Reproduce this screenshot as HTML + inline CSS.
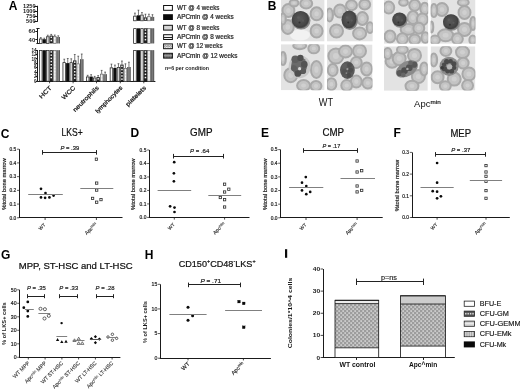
<!DOCTYPE html>
<html><head><meta charset="utf-8"><title>Figure</title>
<style>html,body{margin:0;padding:0;background:#fff;width:520px;height:391px;overflow:hidden;font-family:"Liberation Sans",sans-serif} svg{display:block;filter:grayscale(1)}</style>
</head><body>
<svg width="520" height="391" viewBox="0 0 520 391" font-family='"Liberation Sans", sans-serif'>
<defs><radialGradient id="rbc" cx="50%" cy="50%" r="50%">
<stop offset="0" stop-color="#d2d2d2"/><stop offset="0.55" stop-color="#c6c6c6"/><stop offset="0.8" stop-color="#aaaaaa"/><stop offset="0.93" stop-color="#a0a0a0"/><stop offset="1" stop-color="#bcbcbc"/></radialGradient><radialGradient id="lym" cx="45%" cy="45%" r="55%">
<stop offset="0" stop-color="#595959"/><stop offset="0.6" stop-color="#4b4b4b"/><stop offset="0.9" stop-color="#404040"/><stop offset="1" stop-color="#5a5a5a"/></radialGradient><filter id="blur3" x="-30%" y="-30%" width="160%" height="160%"><feGaussianBlur stdDeviation="0.5"/></filter><filter id="blur1" x="-20%" y="-20%" width="140%" height="140%"><feGaussianBlur stdDeviation="0.65"/></filter><clipPath id="clip0"><rect x="281.0" y="0" width="43.60" height="41.60"/></clipPath><clipPath id="clip1"><rect x="327.0" y="0" width="45.80" height="41.60"/></clipPath><clipPath id="clip2"><rect x="384.0" y="0" width="44.20" height="43.80"/></clipPath><clipPath id="clip3"><rect x="430.6" y="0" width="44.90" height="43.80"/></clipPath><clipPath id="clip4"><rect x="281.0" y="44.2" width="43.60" height="46.10"/></clipPath><clipPath id="clip5"><rect x="327.0" y="44.4" width="45.50" height="46.10"/></clipPath><clipPath id="clip6"><rect x="384.0" y="46.3" width="43.80" height="44.50"/></clipPath><clipPath id="clip7"><rect x="430.6" y="46.3" width="44.80" height="44.20"/></clipPath><pattern id="gm" patternUnits="userSpaceOnUse" width="4" height="4"><rect width="4" height="4" fill="#ababab"/><rect x="0.5" y="0.6" width="1.4" height="0.9" fill="#f2f2f2"/><rect x="2.5" y="2.6" width="1.4" height="0.9" fill="#f2f2f2"/><rect x="2.6" y="0.6" width="0.8" height="0.8" fill="#555"/><rect x="0.6" y="2.6" width="0.8" height="0.8" fill="#555"/></pattern></defs>
<rect width="520" height="391" fill="#fff"/>
<text x="8.80" y="9.90" font-size="12" font-weight="bold" text-anchor="start" fill="#000" font-style="normal" >A</text>
<line x1="37.50" y1="5.75" x2="37.50" y2="21.00" stroke="#1a1a1a" stroke-width="1.0" />
<line x1="34.20" y1="6.50" x2="37.90" y2="6.50" stroke="#1a1a1a" stroke-width="1.0" />
<text x="35.60" y="8.00" font-size="5.6" font-weight="bold" text-anchor="end" fill="#1a1a1a" font-style="normal" textLength="12.60" lengthAdjust="spacingAndGlyphs" >1250</text>
<line x1="34.20" y1="11.50" x2="37.90" y2="11.50" stroke="#1a1a1a" stroke-width="1.0" />
<text x="35.60" y="13.00" font-size="5.6" font-weight="bold" text-anchor="end" fill="#1a1a1a" font-style="normal" textLength="12.60" lengthAdjust="spacingAndGlyphs" >1000</text>
<line x1="34.20" y1="16.50" x2="37.90" y2="16.50" stroke="#1a1a1a" stroke-width="1.0" />
<text x="35.60" y="18.00" font-size="5.6" font-weight="bold" text-anchor="end" fill="#1a1a1a" font-style="normal" textLength="9.50" lengthAdjust="spacingAndGlyphs" >750</text>
<line x1="34.20" y1="21.50" x2="37.90" y2="21.50" stroke="#1a1a1a" stroke-width="1.0" />
<text x="35.60" y="23.00" font-size="5.6" font-weight="bold" text-anchor="end" fill="#1a1a1a" font-style="normal" textLength="9.50" lengthAdjust="spacingAndGlyphs" >500</text>
<line x1="37.50" y1="28.00" x2="37.50" y2="43.30" stroke="#1a1a1a" stroke-width="1.0" />
<line x1="36.40" y1="28.50" x2="39.60" y2="28.50" stroke="#1a1a1a" stroke-width="1.0" />
<line x1="36.40" y1="43.50" x2="39.60" y2="43.50" stroke="#1a1a1a" stroke-width="1.0" />
<line x1="35.30" y1="31.50" x2="37.90" y2="31.50" stroke="#1a1a1a" stroke-width="1.0" />
<text x="35.20" y="33.40" font-size="5.4" font-weight="bold" text-anchor="end" fill="#1a1a1a" font-style="normal" textLength="6.60" lengthAdjust="spacingAndGlyphs" >60</text>
<line x1="35.30" y1="39.50" x2="37.90" y2="39.50" stroke="#1a1a1a" stroke-width="1.0" />
<text x="35.20" y="41.50" font-size="5.4" font-weight="bold" text-anchor="end" fill="#1a1a1a" font-style="normal" textLength="6.60" lengthAdjust="spacingAndGlyphs" >40</text>
<line x1="37.50" y1="50.00" x2="37.50" y2="81.20" stroke="#1a1a1a" stroke-width="1.0" />
<line x1="35.70" y1="81.50" x2="37.90" y2="81.50" stroke="#1a1a1a" stroke-width="1.0" />
<text x="36.60" y="82.80" font-size="4.6" font-weight="bold" text-anchor="end" fill="#1a1a1a" font-style="normal" >0</text>
<line x1="35.70" y1="76.50" x2="37.90" y2="76.50" stroke="#1a1a1a" stroke-width="1.0" />
<text x="36.60" y="78.34" font-size="4.6" font-weight="bold" text-anchor="end" fill="#1a1a1a" font-style="normal" >2</text>
<line x1="35.70" y1="72.50" x2="37.90" y2="72.50" stroke="#1a1a1a" stroke-width="1.0" />
<text x="36.60" y="73.89" font-size="4.6" font-weight="bold" text-anchor="end" fill="#1a1a1a" font-style="normal" >4</text>
<line x1="35.70" y1="67.50" x2="37.90" y2="67.50" stroke="#1a1a1a" stroke-width="1.0" />
<text x="36.60" y="69.43" font-size="4.6" font-weight="bold" text-anchor="end" fill="#1a1a1a" font-style="normal" >6</text>
<line x1="35.70" y1="63.50" x2="37.90" y2="63.50" stroke="#1a1a1a" stroke-width="1.0" />
<text x="36.60" y="64.97" font-size="4.6" font-weight="bold" text-anchor="end" fill="#1a1a1a" font-style="normal" >8</text>
<line x1="35.70" y1="58.50" x2="37.90" y2="58.50" stroke="#1a1a1a" stroke-width="1.0" />
<text x="36.60" y="60.51" font-size="4.6" font-weight="bold" text-anchor="end" fill="#1a1a1a" font-style="normal" >10</text>
<line x1="35.70" y1="54.50" x2="37.90" y2="54.50" stroke="#1a1a1a" stroke-width="1.0" />
<text x="36.60" y="56.06" font-size="4.6" font-weight="bold" text-anchor="end" fill="#1a1a1a" font-style="normal" >12</text>
<line x1="35.70" y1="50.50" x2="37.90" y2="50.50" stroke="#1a1a1a" stroke-width="1.0" />
<text x="36.60" y="51.60" font-size="4.6" font-weight="bold" text-anchor="end" fill="#1a1a1a" font-style="normal" >14</text>
<line x1="37.50" y1="81.50" x2="155.40" y2="81.50" stroke="#1a1a1a" stroke-width="1.0" />
<line x1="49.60" y1="81.20" x2="49.60" y2="83.30" stroke="#1a1a1a" stroke-width="0.8" />
<line x1="73.10" y1="81.20" x2="73.10" y2="83.30" stroke="#1a1a1a" stroke-width="0.8" />
<line x1="96.50" y1="81.20" x2="96.50" y2="83.30" stroke="#1a1a1a" stroke-width="0.8" />
<line x1="120.30" y1="81.20" x2="120.30" y2="83.30" stroke="#1a1a1a" stroke-width="0.8" />
<line x1="143.80" y1="81.20" x2="143.80" y2="83.30" stroke="#1a1a1a" stroke-width="0.8" />
<rect x="39.45" y="50.55" width="2.60" height="30.65" fill="#fafafa" stroke="#111" stroke-width="0.7" />
<rect x="42.60" y="50.20" width="3.30" height="31.00" fill="#0d0d0d" stroke="none" stroke-width="0" />
<rect x="46.45" y="50.55" width="2.60" height="30.65" fill="#d4d4d4" stroke="#222" stroke-width="0.7" />
<rect x="49.60" y="50.20" width="3.30" height="31.00" fill="#1e1e1e" stroke="none" stroke-width="0" />
<rect x="50.50" y="51.20" width="1.50" height="1.50" fill="#f4f4f4" stroke="none" stroke-width="0" />
<rect x="50.50" y="54.40" width="1.50" height="1.50" fill="#f4f4f4" stroke="none" stroke-width="0" />
<rect x="50.50" y="57.60" width="1.50" height="1.50" fill="#f4f4f4" stroke="none" stroke-width="0" />
<rect x="50.50" y="60.80" width="1.50" height="1.50" fill="#f4f4f4" stroke="none" stroke-width="0" />
<rect x="50.50" y="64.00" width="1.50" height="1.50" fill="#f4f4f4" stroke="none" stroke-width="0" />
<rect x="50.50" y="67.20" width="1.50" height="1.50" fill="#f4f4f4" stroke="none" stroke-width="0" />
<rect x="50.50" y="70.40" width="1.50" height="1.50" fill="#f4f4f4" stroke="none" stroke-width="0" />
<rect x="50.50" y="73.60" width="1.50" height="1.50" fill="#f4f4f4" stroke="none" stroke-width="0" />
<rect x="50.50" y="76.80" width="1.50" height="1.50" fill="#f4f4f4" stroke="none" stroke-width="0" />
<rect x="53.40" y="50.50" width="2.70" height="30.70" fill="#e6e6e6" stroke="#555" stroke-width="0.6" />
<rect x="54.30" y="52.00" width="1.00" height="1.00" fill="#ffffff" stroke="none" stroke-width="0" />
<rect x="54.30" y="55.20" width="1.00" height="1.00" fill="#ffffff" stroke="none" stroke-width="0" />
<rect x="54.30" y="58.40" width="1.00" height="1.00" fill="#ffffff" stroke="none" stroke-width="0" />
<rect x="54.30" y="61.60" width="1.00" height="1.00" fill="#ffffff" stroke="none" stroke-width="0" />
<rect x="54.30" y="64.80" width="1.00" height="1.00" fill="#ffffff" stroke="none" stroke-width="0" />
<rect x="54.30" y="68.00" width="1.00" height="1.00" fill="#ffffff" stroke="none" stroke-width="0" />
<rect x="54.30" y="71.20" width="1.00" height="1.00" fill="#ffffff" stroke="none" stroke-width="0" />
<rect x="54.30" y="74.40" width="1.00" height="1.00" fill="#ffffff" stroke="none" stroke-width="0" />
<rect x="54.30" y="77.60" width="1.00" height="1.00" fill="#ffffff" stroke="none" stroke-width="0" />
<rect x="56.60" y="50.20" width="3.30" height="31.00" fill="#9a9a9a" stroke="none" stroke-width="0" />
<line x1="57.00" y1="50.20" x2="57.00" y2="81.20" stroke="#333" stroke-width="0.7" />
<line x1="58.25" y1="50.20" x2="58.25" y2="81.20" stroke="#555" stroke-width="0.5" />
<line x1="59.50" y1="50.20" x2="59.50" y2="81.20" stroke="#333" stroke-width="0.7" />
<line x1="64.25" y1="62.30" x2="64.25" y2="59.20" stroke="#222" stroke-width="0.6" />
<line x1="63.35" y1="59.20" x2="65.15" y2="59.20" stroke="#222" stroke-width="0.6" />
<rect x="62.95" y="62.65" width="2.60" height="18.55" fill="#fafafa" stroke="#111" stroke-width="0.7" />
<line x1="67.75" y1="63.10" x2="67.75" y2="58.50" stroke="#222" stroke-width="0.6" />
<line x1="66.85" y1="58.50" x2="68.65" y2="58.50" stroke="#222" stroke-width="0.6" />
<rect x="66.10" y="63.10" width="3.30" height="18.10" fill="#0d0d0d" stroke="none" stroke-width="0" />
<line x1="71.25" y1="62.30" x2="71.25" y2="58.80" stroke="#222" stroke-width="0.6" />
<line x1="70.35" y1="58.80" x2="72.15" y2="58.80" stroke="#222" stroke-width="0.6" />
<rect x="69.95" y="62.65" width="2.60" height="18.55" fill="#d4d4d4" stroke="#222" stroke-width="0.7" />
<line x1="74.75" y1="60.40" x2="74.75" y2="54.50" stroke="#222" stroke-width="0.6" />
<line x1="73.85" y1="54.50" x2="75.65" y2="54.50" stroke="#222" stroke-width="0.6" />
<rect x="73.10" y="60.40" width="3.30" height="20.80" fill="#1e1e1e" stroke="none" stroke-width="0" />
<rect x="74.00" y="61.40" width="1.50" height="1.50" fill="#f4f4f4" stroke="none" stroke-width="0" />
<rect x="74.00" y="64.60" width="1.50" height="1.50" fill="#f4f4f4" stroke="none" stroke-width="0" />
<rect x="74.00" y="67.80" width="1.50" height="1.50" fill="#f4f4f4" stroke="none" stroke-width="0" />
<rect x="74.00" y="71.00" width="1.50" height="1.50" fill="#f4f4f4" stroke="none" stroke-width="0" />
<rect x="74.00" y="74.20" width="1.50" height="1.50" fill="#f4f4f4" stroke="none" stroke-width="0" />
<rect x="74.00" y="77.40" width="1.50" height="1.50" fill="#f4f4f4" stroke="none" stroke-width="0" />
<line x1="78.25" y1="63.50" x2="78.25" y2="56.20" stroke="#222" stroke-width="0.6" />
<line x1="77.35" y1="56.20" x2="79.15" y2="56.20" stroke="#222" stroke-width="0.6" />
<rect x="76.90" y="63.80" width="2.70" height="17.40" fill="#e6e6e6" stroke="#555" stroke-width="0.6" />
<rect x="77.80" y="65.30" width="1.00" height="1.00" fill="#ffffff" stroke="none" stroke-width="0" />
<rect x="77.80" y="68.50" width="1.00" height="1.00" fill="#ffffff" stroke="none" stroke-width="0" />
<rect x="77.80" y="71.70" width="1.00" height="1.00" fill="#ffffff" stroke="none" stroke-width="0" />
<rect x="77.80" y="74.90" width="1.00" height="1.00" fill="#ffffff" stroke="none" stroke-width="0" />
<rect x="77.80" y="78.10" width="1.00" height="1.00" fill="#ffffff" stroke="none" stroke-width="0" />
<line x1="81.75" y1="59.20" x2="81.75" y2="54.00" stroke="#222" stroke-width="0.6" />
<line x1="80.85" y1="54.00" x2="82.65" y2="54.00" stroke="#222" stroke-width="0.6" />
<rect x="80.10" y="59.20" width="3.30" height="22.00" fill="#9a9a9a" stroke="none" stroke-width="0" />
<line x1="80.50" y1="59.20" x2="80.50" y2="81.20" stroke="#333" stroke-width="0.7" />
<line x1="81.75" y1="59.20" x2="81.75" y2="81.20" stroke="#555" stroke-width="0.5" />
<line x1="83.00" y1="59.20" x2="83.00" y2="81.20" stroke="#333" stroke-width="0.7" />
<line x1="87.65" y1="76.60" x2="87.65" y2="75.30" stroke="#222" stroke-width="0.6" />
<line x1="86.75" y1="75.30" x2="88.55" y2="75.30" stroke="#222" stroke-width="0.6" />
<rect x="86.35" y="76.95" width="2.60" height="4.25" fill="#fafafa" stroke="#111" stroke-width="0.7" />
<line x1="91.15" y1="76.60" x2="91.15" y2="74.70" stroke="#222" stroke-width="0.6" />
<line x1="90.25" y1="74.70" x2="92.05" y2="74.70" stroke="#222" stroke-width="0.6" />
<rect x="89.50" y="76.60" width="3.30" height="4.60" fill="#0d0d0d" stroke="none" stroke-width="0" />
<line x1="94.65" y1="77.60" x2="94.65" y2="76.40" stroke="#222" stroke-width="0.6" />
<line x1="93.75" y1="76.40" x2="95.55" y2="76.40" stroke="#222" stroke-width="0.6" />
<rect x="93.35" y="77.95" width="2.60" height="3.25" fill="#d4d4d4" stroke="#222" stroke-width="0.7" />
<line x1="98.15" y1="77.10" x2="98.15" y2="75.60" stroke="#222" stroke-width="0.6" />
<line x1="97.25" y1="75.60" x2="99.05" y2="75.60" stroke="#222" stroke-width="0.6" />
<rect x="96.50" y="77.10" width="3.30" height="4.10" fill="#1e1e1e" stroke="none" stroke-width="0" />
<rect x="97.40" y="78.10" width="1.50" height="1.50" fill="#f4f4f4" stroke="none" stroke-width="0" />
<line x1="101.65" y1="73.80" x2="101.65" y2="70.40" stroke="#222" stroke-width="0.6" />
<line x1="100.75" y1="70.40" x2="102.55" y2="70.40" stroke="#222" stroke-width="0.6" />
<rect x="100.30" y="74.10" width="2.70" height="7.10" fill="#e6e6e6" stroke="#555" stroke-width="0.6" />
<rect x="101.20" y="75.60" width="1.00" height="1.00" fill="#ffffff" stroke="none" stroke-width="0" />
<rect x="101.20" y="78.80" width="1.00" height="1.00" fill="#ffffff" stroke="none" stroke-width="0" />
<line x1="105.15" y1="74.20" x2="105.15" y2="72.10" stroke="#222" stroke-width="0.6" />
<line x1="104.25" y1="72.10" x2="106.05" y2="72.10" stroke="#222" stroke-width="0.6" />
<rect x="103.50" y="74.20" width="3.30" height="7.00" fill="#9a9a9a" stroke="none" stroke-width="0" />
<line x1="103.90" y1="74.20" x2="103.90" y2="81.20" stroke="#333" stroke-width="0.7" />
<line x1="105.15" y1="74.20" x2="105.15" y2="81.20" stroke="#555" stroke-width="0.5" />
<line x1="106.40" y1="74.20" x2="106.40" y2="81.20" stroke="#333" stroke-width="0.7" />
<line x1="111.45" y1="67.50" x2="111.45" y2="64.10" stroke="#222" stroke-width="0.6" />
<line x1="110.55" y1="64.10" x2="112.35" y2="64.10" stroke="#222" stroke-width="0.6" />
<rect x="110.15" y="67.85" width="2.60" height="13.35" fill="#fafafa" stroke="#111" stroke-width="0.7" />
<line x1="114.95" y1="68.00" x2="114.95" y2="65.10" stroke="#222" stroke-width="0.6" />
<line x1="114.05" y1="65.10" x2="115.85" y2="65.10" stroke="#222" stroke-width="0.6" />
<rect x="113.30" y="68.00" width="3.30" height="13.20" fill="#0d0d0d" stroke="none" stroke-width="0" />
<line x1="118.45" y1="67.00" x2="118.45" y2="63.70" stroke="#222" stroke-width="0.6" />
<line x1="117.55" y1="63.70" x2="119.35" y2="63.70" stroke="#222" stroke-width="0.6" />
<rect x="117.15" y="67.35" width="2.60" height="13.85" fill="#d4d4d4" stroke="#222" stroke-width="0.7" />
<line x1="121.95" y1="64.60" x2="121.95" y2="61.00" stroke="#222" stroke-width="0.6" />
<line x1="121.05" y1="61.00" x2="122.85" y2="61.00" stroke="#222" stroke-width="0.6" />
<rect x="120.30" y="64.60" width="3.30" height="16.60" fill="#1e1e1e" stroke="none" stroke-width="0" />
<rect x="121.20" y="65.60" width="1.50" height="1.50" fill="#f4f4f4" stroke="none" stroke-width="0" />
<rect x="121.20" y="68.80" width="1.50" height="1.50" fill="#f4f4f4" stroke="none" stroke-width="0" />
<rect x="121.20" y="72.00" width="1.50" height="1.50" fill="#f4f4f4" stroke="none" stroke-width="0" />
<rect x="121.20" y="75.20" width="1.50" height="1.50" fill="#f4f4f4" stroke="none" stroke-width="0" />
<rect x="121.20" y="78.40" width="1.50" height="1.50" fill="#f4f4f4" stroke="none" stroke-width="0" />
<line x1="125.45" y1="68.00" x2="125.45" y2="63.80" stroke="#222" stroke-width="0.6" />
<line x1="124.55" y1="63.80" x2="126.35" y2="63.80" stroke="#222" stroke-width="0.6" />
<rect x="124.10" y="68.30" width="2.70" height="12.90" fill="#e6e6e6" stroke="#555" stroke-width="0.6" />
<rect x="125.00" y="69.80" width="1.00" height="1.00" fill="#ffffff" stroke="none" stroke-width="0" />
<rect x="125.00" y="73.00" width="1.00" height="1.00" fill="#ffffff" stroke="none" stroke-width="0" />
<rect x="125.00" y="76.20" width="1.00" height="1.00" fill="#ffffff" stroke="none" stroke-width="0" />
<rect x="125.00" y="79.40" width="1.00" height="1.00" fill="#ffffff" stroke="none" stroke-width="0" />
<line x1="128.95" y1="67.00" x2="128.95" y2="62.20" stroke="#222" stroke-width="0.6" />
<line x1="128.05" y1="62.20" x2="129.85" y2="62.20" stroke="#222" stroke-width="0.6" />
<rect x="127.30" y="67.00" width="3.30" height="14.20" fill="#9a9a9a" stroke="none" stroke-width="0" />
<line x1="127.70" y1="67.00" x2="127.70" y2="81.20" stroke="#333" stroke-width="0.7" />
<line x1="128.95" y1="67.00" x2="128.95" y2="81.20" stroke="#555" stroke-width="0.5" />
<line x1="130.20" y1="67.00" x2="130.20" y2="81.20" stroke="#333" stroke-width="0.7" />
<rect x="133.65" y="50.55" width="2.60" height="30.65" fill="#fafafa" stroke="#111" stroke-width="0.7" />
<rect x="136.80" y="50.20" width="3.30" height="31.00" fill="#0d0d0d" stroke="none" stroke-width="0" />
<rect x="140.65" y="50.55" width="2.60" height="30.65" fill="#d4d4d4" stroke="#222" stroke-width="0.7" />
<rect x="143.80" y="50.20" width="3.30" height="31.00" fill="#1e1e1e" stroke="none" stroke-width="0" />
<rect x="144.70" y="51.20" width="1.50" height="1.50" fill="#f4f4f4" stroke="none" stroke-width="0" />
<rect x="144.70" y="54.40" width="1.50" height="1.50" fill="#f4f4f4" stroke="none" stroke-width="0" />
<rect x="144.70" y="57.60" width="1.50" height="1.50" fill="#f4f4f4" stroke="none" stroke-width="0" />
<rect x="144.70" y="60.80" width="1.50" height="1.50" fill="#f4f4f4" stroke="none" stroke-width="0" />
<rect x="144.70" y="64.00" width="1.50" height="1.50" fill="#f4f4f4" stroke="none" stroke-width="0" />
<rect x="144.70" y="67.20" width="1.50" height="1.50" fill="#f4f4f4" stroke="none" stroke-width="0" />
<rect x="144.70" y="70.40" width="1.50" height="1.50" fill="#f4f4f4" stroke="none" stroke-width="0" />
<rect x="144.70" y="73.60" width="1.50" height="1.50" fill="#f4f4f4" stroke="none" stroke-width="0" />
<rect x="144.70" y="76.80" width="1.50" height="1.50" fill="#f4f4f4" stroke="none" stroke-width="0" />
<rect x="147.60" y="50.50" width="2.70" height="30.70" fill="#e6e6e6" stroke="#555" stroke-width="0.6" />
<rect x="148.50" y="52.00" width="1.00" height="1.00" fill="#ffffff" stroke="none" stroke-width="0" />
<rect x="148.50" y="55.20" width="1.00" height="1.00" fill="#ffffff" stroke="none" stroke-width="0" />
<rect x="148.50" y="58.40" width="1.00" height="1.00" fill="#ffffff" stroke="none" stroke-width="0" />
<rect x="148.50" y="61.60" width="1.00" height="1.00" fill="#ffffff" stroke="none" stroke-width="0" />
<rect x="148.50" y="64.80" width="1.00" height="1.00" fill="#ffffff" stroke="none" stroke-width="0" />
<rect x="148.50" y="68.00" width="1.00" height="1.00" fill="#ffffff" stroke="none" stroke-width="0" />
<rect x="148.50" y="71.20" width="1.00" height="1.00" fill="#ffffff" stroke="none" stroke-width="0" />
<rect x="148.50" y="74.40" width="1.00" height="1.00" fill="#ffffff" stroke="none" stroke-width="0" />
<rect x="148.50" y="77.60" width="1.00" height="1.00" fill="#ffffff" stroke="none" stroke-width="0" />
<rect x="150.80" y="50.20" width="3.30" height="31.00" fill="#9a9a9a" stroke="none" stroke-width="0" />
<line x1="151.20" y1="50.20" x2="151.20" y2="81.20" stroke="#333" stroke-width="0.7" />
<line x1="152.45" y1="50.20" x2="152.45" y2="81.20" stroke="#555" stroke-width="0.5" />
<line x1="153.70" y1="50.20" x2="153.70" y2="81.20" stroke="#333" stroke-width="0.7" />
<line x1="40.75" y1="38.60" x2="40.75" y2="37.60" stroke="#222" stroke-width="0.6" />
<line x1="39.85" y1="37.60" x2="41.65" y2="37.60" stroke="#222" stroke-width="0.6" />
<rect x="39.45" y="38.95" width="2.60" height="4.45" fill="#fafafa" stroke="#111" stroke-width="0.7" />
<line x1="44.25" y1="39.20" x2="44.25" y2="38.20" stroke="#222" stroke-width="0.6" />
<line x1="43.35" y1="38.20" x2="45.15" y2="38.20" stroke="#222" stroke-width="0.6" />
<rect x="42.60" y="39.20" width="3.30" height="4.20" fill="#0d0d0d" stroke="none" stroke-width="0" />
<line x1="47.75" y1="36.40" x2="47.75" y2="35.20" stroke="#222" stroke-width="0.6" />
<line x1="46.85" y1="35.20" x2="48.65" y2="35.20" stroke="#222" stroke-width="0.6" />
<rect x="46.45" y="36.75" width="2.60" height="6.65" fill="#d4d4d4" stroke="#222" stroke-width="0.7" />
<line x1="51.25" y1="35.60" x2="51.25" y2="34.40" stroke="#222" stroke-width="0.6" />
<line x1="50.35" y1="34.40" x2="52.15" y2="34.40" stroke="#222" stroke-width="0.6" />
<rect x="49.60" y="35.60" width="3.30" height="7.80" fill="#1e1e1e" stroke="none" stroke-width="0" />
<rect x="50.50" y="36.60" width="1.50" height="1.50" fill="#f4f4f4" stroke="none" stroke-width="0" />
<rect x="50.50" y="39.80" width="1.50" height="1.50" fill="#f4f4f4" stroke="none" stroke-width="0" />
<line x1="54.75" y1="36.20" x2="54.75" y2="35.00" stroke="#222" stroke-width="0.6" />
<line x1="53.85" y1="35.00" x2="55.65" y2="35.00" stroke="#222" stroke-width="0.6" />
<rect x="53.40" y="36.50" width="2.70" height="6.90" fill="#e6e6e6" stroke="#555" stroke-width="0.6" />
<rect x="54.30" y="38.00" width="1.00" height="1.00" fill="#ffffff" stroke="none" stroke-width="0" />
<rect x="54.30" y="41.20" width="1.00" height="1.00" fill="#ffffff" stroke="none" stroke-width="0" />
<line x1="58.25" y1="37.00" x2="58.25" y2="35.80" stroke="#222" stroke-width="0.6" />
<line x1="57.35" y1="35.80" x2="59.15" y2="35.80" stroke="#222" stroke-width="0.6" />
<rect x="56.60" y="37.00" width="3.30" height="6.40" fill="#9a9a9a" stroke="none" stroke-width="0" />
<line x1="57.00" y1="37.00" x2="57.00" y2="43.40" stroke="#333" stroke-width="0.7" />
<line x1="58.25" y1="37.00" x2="58.25" y2="43.40" stroke="#555" stroke-width="0.5" />
<line x1="59.50" y1="37.00" x2="59.50" y2="43.40" stroke="#333" stroke-width="0.7" />
<rect x="133.65" y="28.65" width="2.60" height="14.75" fill="#fafafa" stroke="#111" stroke-width="0.7" />
<rect x="136.80" y="28.30" width="3.30" height="15.10" fill="#0d0d0d" stroke="none" stroke-width="0" />
<rect x="140.65" y="28.65" width="2.60" height="14.75" fill="#d4d4d4" stroke="#222" stroke-width="0.7" />
<rect x="143.80" y="28.30" width="3.30" height="15.10" fill="#1e1e1e" stroke="none" stroke-width="0" />
<rect x="144.70" y="29.30" width="1.50" height="1.50" fill="#f4f4f4" stroke="none" stroke-width="0" />
<rect x="144.70" y="32.50" width="1.50" height="1.50" fill="#f4f4f4" stroke="none" stroke-width="0" />
<rect x="144.70" y="35.70" width="1.50" height="1.50" fill="#f4f4f4" stroke="none" stroke-width="0" />
<rect x="144.70" y="38.90" width="1.50" height="1.50" fill="#f4f4f4" stroke="none" stroke-width="0" />
<rect x="147.60" y="28.60" width="2.70" height="14.80" fill="#e6e6e6" stroke="#555" stroke-width="0.6" />
<rect x="148.50" y="30.10" width="1.00" height="1.00" fill="#ffffff" stroke="none" stroke-width="0" />
<rect x="148.50" y="33.30" width="1.00" height="1.00" fill="#ffffff" stroke="none" stroke-width="0" />
<rect x="148.50" y="36.50" width="1.00" height="1.00" fill="#ffffff" stroke="none" stroke-width="0" />
<rect x="148.50" y="39.70" width="1.00" height="1.00" fill="#ffffff" stroke="none" stroke-width="0" />
<rect x="150.80" y="28.30" width="3.30" height="15.10" fill="#9a9a9a" stroke="none" stroke-width="0" />
<line x1="151.20" y1="28.30" x2="151.20" y2="43.40" stroke="#333" stroke-width="0.7" />
<line x1="152.45" y1="28.30" x2="152.45" y2="43.40" stroke="#555" stroke-width="0.5" />
<line x1="153.70" y1="28.30" x2="153.70" y2="43.40" stroke="#333" stroke-width="0.7" />
<line x1="134.95" y1="15.80" x2="134.95" y2="13.10" stroke="#222" stroke-width="0.6" />
<line x1="134.05" y1="13.10" x2="135.85" y2="13.10" stroke="#222" stroke-width="0.6" />
<rect x="133.65" y="16.15" width="2.60" height="4.65" fill="#fafafa" stroke="#111" stroke-width="0.7" />
<line x1="138.45" y1="15.30" x2="138.45" y2="10.20" stroke="#222" stroke-width="0.6" />
<line x1="137.55" y1="10.20" x2="139.35" y2="10.20" stroke="#222" stroke-width="0.6" />
<rect x="136.80" y="15.30" width="3.30" height="5.50" fill="#0d0d0d" stroke="none" stroke-width="0" />
<line x1="141.95" y1="14.70" x2="141.95" y2="12.60" stroke="#222" stroke-width="0.6" />
<line x1="141.05" y1="12.60" x2="142.85" y2="12.60" stroke="#222" stroke-width="0.6" />
<rect x="140.65" y="15.05" width="2.60" height="5.75" fill="#d4d4d4" stroke="#222" stroke-width="0.7" />
<line x1="145.45" y1="17.40" x2="145.45" y2="14.20" stroke="#222" stroke-width="0.6" />
<line x1="144.55" y1="14.20" x2="146.35" y2="14.20" stroke="#222" stroke-width="0.6" />
<rect x="143.80" y="17.40" width="3.30" height="3.40" fill="#1e1e1e" stroke="none" stroke-width="0" />
<rect x="144.70" y="18.40" width="1.50" height="1.50" fill="#f4f4f4" stroke="none" stroke-width="0" />
<line x1="148.95" y1="16.40" x2="148.95" y2="14.20" stroke="#222" stroke-width="0.6" />
<line x1="148.05" y1="14.20" x2="149.85" y2="14.20" stroke="#222" stroke-width="0.6" />
<rect x="147.60" y="16.70" width="2.70" height="4.10" fill="#e6e6e6" stroke="#555" stroke-width="0.6" />
<rect x="148.50" y="18.20" width="1.00" height="1.00" fill="#ffffff" stroke="none" stroke-width="0" />
<line x1="152.45" y1="16.90" x2="152.45" y2="14.70" stroke="#222" stroke-width="0.6" />
<line x1="151.55" y1="14.70" x2="153.35" y2="14.70" stroke="#222" stroke-width="0.6" />
<rect x="150.80" y="16.90" width="3.30" height="3.90" fill="#9a9a9a" stroke="none" stroke-width="0" />
<line x1="151.20" y1="16.90" x2="151.20" y2="20.80" stroke="#333" stroke-width="0.7" />
<line x1="152.45" y1="16.90" x2="152.45" y2="20.80" stroke="#555" stroke-width="0.5" />
<line x1="153.70" y1="16.90" x2="153.70" y2="20.80" stroke="#333" stroke-width="0.7" />
<text x="52.20" y="88.30" font-size="6.0" font-weight="normal" text-anchor="end" fill="#1a1a1a" font-style="normal" textLength="15.00" lengthAdjust="spacingAndGlyphs" transform="rotate(-45 52.20 88.30)" stroke="#1a1a1a" stroke-width="0.25">HCT</text>
<text x="75.70" y="88.30" font-size="6.0" font-weight="normal" text-anchor="end" fill="#1a1a1a" font-style="normal" textLength="16.40" lengthAdjust="spacingAndGlyphs" transform="rotate(-45 75.70 88.30)" stroke="#1a1a1a" stroke-width="0.25">WCC</text>
<text x="99.10" y="88.30" font-size="6.0" font-weight="normal" text-anchor="end" fill="#1a1a1a" font-style="normal" textLength="33.80" lengthAdjust="spacingAndGlyphs" transform="rotate(-45 99.10 88.30)" stroke="#1a1a1a" stroke-width="0.25">neutrophils</text>
<text x="122.90" y="88.30" font-size="6.0" font-weight="normal" text-anchor="end" fill="#1a1a1a" font-style="normal" textLength="35.60" lengthAdjust="spacingAndGlyphs" transform="rotate(-45 122.90 88.30)" stroke="#1a1a1a" stroke-width="0.25">lymphocytes</text>
<text x="146.40" y="88.30" font-size="6.0" font-weight="normal" text-anchor="end" fill="#1a1a1a" font-style="normal" textLength="26.00" lengthAdjust="spacingAndGlyphs" transform="rotate(-45 146.40 88.30)" stroke="#1a1a1a" stroke-width="0.25">platelets</text>
<rect x="163.60" y="5.50" width="8.80" height="4.80" fill="#fff" stroke="#111" stroke-width="1.0" />
<text x="176.90" y="9.90" font-size="6.3" font-weight="normal" text-anchor="start" fill="#222" font-style="normal" textLength="42.60" lengthAdjust="spacingAndGlyphs" stroke="#222" stroke-width="0.2">WT @ 4 weeks</text>
<rect x="163.10" y="14.20" width="9.80" height="5.80" fill="#0a0a0a" stroke="none" stroke-width="0" />
<text x="176.90" y="19.10" font-size="6.3" font-weight="normal" text-anchor="start" fill="#222" font-style="normal" textLength="56.80" lengthAdjust="spacingAndGlyphs" stroke="#222" stroke-width="0.2">APCmin @ 4 weeks</text>
<rect x="163.60" y="25.30" width="8.80" height="4.80" fill="#d6d6d6" stroke="#111" stroke-width="1.0" />
<text x="176.90" y="29.70" font-size="6.3" font-weight="normal" text-anchor="start" fill="#222" font-style="normal" textLength="42.60" lengthAdjust="spacingAndGlyphs" stroke="#222" stroke-width="0.2">WT @ 8 weeks</text>
<rect x="163.60" y="34.70" width="8.80" height="4.80" fill="#f4f4f4" stroke="#111" stroke-width="1.0" />
<line x1="163.60" y1="37.50" x2="172.40" y2="37.50" stroke="#222" stroke-width="1.0" />
<text x="176.90" y="39.10" font-size="6.3" font-weight="normal" text-anchor="start" fill="#222" font-style="normal" textLength="56.80" lengthAdjust="spacingAndGlyphs" stroke="#222" stroke-width="0.2">APCmin @ 8 weeks</text>
<rect x="163.60" y="43.90" width="8.80" height="4.80" fill="#f0f0f0" stroke="#111" stroke-width="1.0" />
<circle cx="165.50" cy="46.30" r="0.90" fill="none" stroke="#555" stroke-width="0.5" />
<circle cx="168.00" cy="46.30" r="0.90" fill="none" stroke="#555" stroke-width="0.5" />
<circle cx="170.50" cy="46.30" r="0.90" fill="none" stroke="#555" stroke-width="0.5" />
<text x="176.90" y="48.30" font-size="6.3" font-weight="normal" text-anchor="start" fill="#222" font-style="normal" textLength="45.60" lengthAdjust="spacingAndGlyphs" stroke="#222" stroke-width="0.2">WT @ 12 weeks</text>
<rect x="163.60" y="53.30" width="8.80" height="4.80" fill="#6a6a6a" stroke="#111" stroke-width="1.0" />
<line x1="163.90" y1="55.70" x2="172.10" y2="55.70" stroke="#c8c8c8" stroke-width="0.6" />
<line x1="165.70" y1="53.80" x2="165.70" y2="57.60" stroke="#999" stroke-width="0.4" />
<line x1="168.10" y1="53.80" x2="168.10" y2="57.60" stroke="#999" stroke-width="0.4" />
<line x1="170.50" y1="53.80" x2="170.50" y2="57.60" stroke="#999" stroke-width="0.4" />
<text x="176.90" y="57.70" font-size="6.3" font-weight="normal" text-anchor="start" fill="#222" font-style="normal" textLength="60.60" lengthAdjust="spacingAndGlyphs" stroke="#222" stroke-width="0.2">APCmin @ 12 weeks</text>
<text x="164.90" y="70.20" font-size="4.8" font-weight="bold" text-anchor="start" fill="#1a1a1a" font-style="normal" textLength="44.20" lengthAdjust="spacingAndGlyphs" >n=6 per condition</text>
<text x="267.80" y="9.90" font-size="12" font-weight="bold" text-anchor="start" fill="#000" font-style="normal" >B</text>
<g clip-path="url(#clip0)">
<rect x="281.00" y="0.00" width="43.60" height="41.60" fill="#e3e3e3" stroke="none" stroke-width="0" />
<g filter="url(#blur1)">
<ellipse cx="300" cy="35" rx="10" ry="5.5" fill="#f2f2f2"/>
<ellipse cx="288.4" cy="10.4" rx="5.98" ry="6.50" fill="#c4c4c4" stroke="#a9a9a9" stroke-width="2.0"/>
<ellipse cx="288.4" cy="10.4" rx="2.31" ry="2.52" fill="#d0d0d0"/>
<ellipse cx="306.2" cy="3.5" rx="5.98" ry="4.93" fill="#c4c4c4" stroke="#a9a9a9" stroke-width="2.0"/>
<ellipse cx="306.2" cy="3.5" rx="2.31" ry="1.89" fill="#d0d0d0"/>
<ellipse cx="316.6" cy="13.8" rx="5.98" ry="6.50" fill="#c4c4c4" stroke="#a9a9a9" stroke-width="2.0"/>
<ellipse cx="316.6" cy="13.8" rx="2.31" ry="2.52" fill="#d0d0d0"/>
<ellipse cx="287.8" cy="27" rx="5.98" ry="7.03" fill="#c4c4c4" stroke="#a9a9a9" stroke-width="2.0"/>
<ellipse cx="287.8" cy="27" rx="2.31" ry="2.73" fill="#d0d0d0"/>
<ellipse cx="316.6" cy="31" rx="5.98" ry="6.50" fill="#c4c4c4" stroke="#a9a9a9" stroke-width="2.0"/>
<ellipse cx="316.6" cy="31" rx="2.31" ry="2.52" fill="#d0d0d0"/>
<ellipse cx="294" cy="3" rx="4.40" ry="3.35" fill="#c4c4c4" stroke="#a9a9a9" stroke-width="2.0"/>
<ellipse cx="294" cy="3" rx="1.68" ry="1.26" fill="#d0d0d0"/>
<ellipse cx="283" cy="19" rx="2.83" ry="5.45" fill="#c4c4c4" stroke="#a9a9a9" stroke-width="2.0"/>
<ellipse cx="283" cy="19" rx="1.05" ry="2.10" fill="#d0d0d0"/>
</g><g filter="url(#blur3)">
<ellipse cx="301.1" cy="20.400000000000002" rx="9.4" ry="9.2" fill="#8a8a8a"/>
<ellipse cx="300.5" cy="19.6" rx="8.8" ry="8.6" fill="url(#lym)"/>
<circle cx="298.5" cy="17.6" r="1.3" fill="#5c5c5c"/><circle cx="303.0" cy="20.6" r="1.1" fill="#5a5a5a"/><circle cx="299.5" cy="22.6" r="1.0" fill="#333"/>
</g></g>
<g clip-path="url(#clip1)">
<rect x="327.00" y="0.00" width="45.80" height="41.60" fill="#e3e3e3" stroke="none" stroke-width="0" />
<g filter="url(#blur1)">
<ellipse cx="340" cy="11" rx="5.98" ry="6.50" fill="#c4c4c4" stroke="#a9a9a9" stroke-width="2.0"/>
<ellipse cx="340" cy="11" rx="2.31" ry="2.52" fill="#d0d0d0"/>
<ellipse cx="362.4" cy="18.4" rx="5.45" ry="6.50" fill="#c4c4c4" stroke="#a9a9a9" stroke-width="2.0"/>
<ellipse cx="362.4" cy="18.4" rx="2.10" ry="2.52" fill="#d0d0d0"/>
<ellipse cx="336.5" cy="31" rx="6.50" ry="6.50" fill="#c4c4c4" stroke="#a9a9a9" stroke-width="2.0"/>
<ellipse cx="336.5" cy="31" rx="2.52" ry="2.52" fill="#d0d0d0"/>
<ellipse cx="359.6" cy="33.4" rx="6.50" ry="5.98" fill="#c4c4c4" stroke="#a9a9a9" stroke-width="2.0"/>
<ellipse cx="359.6" cy="33.4" rx="2.52" ry="2.31" fill="#d0d0d0"/>
<ellipse cx="329.6" cy="15" rx="3.35" ry="6.50" fill="#c4c4c4" stroke="#a9a9a9" stroke-width="2.0"/>
<ellipse cx="329.6" cy="15" rx="1.26" ry="2.52" fill="#d0d0d0"/>
<ellipse cx="351.5" cy="5.2" rx="5.45" ry="4.93" fill="#c4c4c4" stroke="#a9a9a9" stroke-width="2.0"/>
<ellipse cx="351.5" cy="5.2" rx="2.10" ry="1.89" fill="#d0d0d0"/>
<ellipse cx="364.7" cy="4.6" rx="5.45" ry="4.93" fill="#c4c4c4" stroke="#a9a9a9" stroke-width="2.0"/>
<ellipse cx="364.7" cy="4.6" rx="2.10" ry="1.89" fill="#d0d0d0"/>
<ellipse cx="370" cy="27.6" rx="3.35" ry="5.45" fill="#c4c4c4" stroke="#a9a9a9" stroke-width="2.0"/>
<ellipse cx="370" cy="27.6" rx="1.26" ry="2.10" fill="#d0d0d0"/>
</g><g filter="url(#blur3)">
<ellipse cx="349.8" cy="20.400000000000002" rx="8.2" ry="9.6" fill="#8a8a8a"/>
<ellipse cx="349.2" cy="19.6" rx="7.6" ry="9.0" fill="url(#lym)"/>
<circle cx="347.2" cy="17.6" r="1.3" fill="#5c5c5c"/><circle cx="351.7" cy="20.6" r="1.1" fill="#5a5a5a"/><circle cx="348.2" cy="22.6" r="1.0" fill="#333"/>
</g></g>
<g clip-path="url(#clip2)">
<rect x="384.00" y="0.00" width="44.20" height="43.80" fill="#e3e3e3" stroke="none" stroke-width="0" />
<g filter="url(#blur1)">
<ellipse cx="388.8" cy="7.6" rx="5.45" ry="5.98" fill="#c4c4c4" stroke="#a9a9a9" stroke-width="2.0"/>
<ellipse cx="388.8" cy="7.6" rx="2.10" ry="2.31" fill="#d0d0d0"/>
<ellipse cx="403.5" cy="2.4" rx="4.40" ry="3.35" fill="#c4c4c4" stroke="#a9a9a9" stroke-width="2.0"/>
<ellipse cx="403.5" cy="2.4" rx="1.68" ry="1.26" fill="#d0d0d0"/>
<ellipse cx="414.7" cy="5.3" rx="5.45" ry="5.45" fill="#c4c4c4" stroke="#a9a9a9" stroke-width="2.0"/>
<ellipse cx="414.7" cy="5.3" rx="2.10" ry="2.10" fill="#d0d0d0"/>
<ellipse cx="424.7" cy="8.8" rx="4.40" ry="5.98" fill="#c4c4c4" stroke="#a9a9a9" stroke-width="2.0"/>
<ellipse cx="424.7" cy="8.8" rx="1.68" ry="2.31" fill="#d0d0d0"/>
<ellipse cx="413" cy="17.6" rx="5.45" ry="6.50" fill="#c4c4c4" stroke="#a9a9a9" stroke-width="2.0"/>
<ellipse cx="413" cy="17.6" rx="2.10" ry="2.52" fill="#d0d0d0"/>
<ellipse cx="422.4" cy="19.4" rx="5.45" ry="5.98" fill="#c4c4c4" stroke="#a9a9a9" stroke-width="2.0"/>
<ellipse cx="422.4" cy="19.4" rx="2.10" ry="2.31" fill="#d0d0d0"/>
<ellipse cx="408.2" cy="29.4" rx="7.55" ry="5.45" fill="#c4c4c4" stroke="#a9a9a9" stroke-width="2.0"/>
<ellipse cx="408.2" cy="29.4" rx="2.94" ry="2.10" fill="#d0d0d0"/>
<ellipse cx="418.8" cy="28.2" rx="5.45" ry="5.45" fill="#c4c4c4" stroke="#a9a9a9" stroke-width="2.0"/>
<ellipse cx="418.8" cy="28.2" rx="2.10" ry="2.10" fill="#d0d0d0"/>
<ellipse cx="390" cy="36.5" rx="5.45" ry="5.98" fill="#c4c4c4" stroke="#a9a9a9" stroke-width="2.0"/>
<ellipse cx="390" cy="36.5" rx="2.10" ry="2.31" fill="#d0d0d0"/>
<ellipse cx="402.4" cy="38.8" rx="5.45" ry="5.45" fill="#c4c4c4" stroke="#a9a9a9" stroke-width="2.0"/>
<ellipse cx="402.4" cy="38.8" rx="2.10" ry="2.10" fill="#d0d0d0"/>
<ellipse cx="414.7" cy="39.4" rx="5.45" ry="4.93" fill="#c4c4c4" stroke="#a9a9a9" stroke-width="2.0"/>
<ellipse cx="414.7" cy="39.4" rx="2.10" ry="1.89" fill="#d0d0d0"/>
<ellipse cx="425.3" cy="37.6" rx="3.88" ry="5.45" fill="#c4c4c4" stroke="#a9a9a9" stroke-width="2.0"/>
<ellipse cx="425.3" cy="37.6" rx="1.47" ry="2.10" fill="#d0d0d0"/>
</g><g filter="url(#blur3)">
<ellipse cx="400.0" cy="20.2" rx="7.699999999999999" ry="7.5" fill="#8a8a8a"/>
<ellipse cx="399.4" cy="19.4" rx="7.1" ry="6.9" fill="url(#lym)"/>
<circle cx="397.4" cy="17.4" r="1.3" fill="#5c5c5c"/><circle cx="401.9" cy="20.4" r="1.1" fill="#5a5a5a"/><circle cx="398.4" cy="22.4" r="1.0" fill="#333"/>
</g></g>
<g clip-path="url(#clip3)">
<rect x="430.60" y="0.00" width="44.90" height="43.80" fill="#e3e3e3" stroke="none" stroke-width="0" />
<g filter="url(#blur1)">
<ellipse cx="442" cy="9.4" rx="5.98" ry="6.50" fill="#c4c4c4" stroke="#a9a9a9" stroke-width="2.0"/>
<ellipse cx="442" cy="9.4" rx="2.31" ry="2.52" fill="#d0d0d0"/>
<ellipse cx="433.9" cy="10.6" rx="3.35" ry="6.50" fill="#c4c4c4" stroke="#a9a9a9" stroke-width="2.0"/>
<ellipse cx="433.9" cy="10.6" rx="1.26" ry="2.52" fill="#d0d0d0"/>
<ellipse cx="464.5" cy="12.4" rx="5.98" ry="6.50" fill="#c4c4c4" stroke="#a9a9a9" stroke-width="2.0"/>
<ellipse cx="464.5" cy="12.4" rx="2.31" ry="2.52" fill="#d0d0d0"/>
<ellipse cx="464.5" cy="29.4" rx="6.50" ry="6.50" fill="#c4c4c4" stroke="#a9a9a9" stroke-width="2.0"/>
<ellipse cx="464.5" cy="29.4" rx="2.52" ry="2.52" fill="#d0d0d0"/>
<ellipse cx="445.6" cy="35.3" rx="7.55" ry="5.98" fill="#c4c4c4" stroke="#a9a9a9" stroke-width="2.0"/>
<ellipse cx="445.6" cy="35.3" rx="2.94" ry="2.31" fill="#d0d0d0"/>
<ellipse cx="457.4" cy="38.8" rx="5.45" ry="5.45" fill="#c4c4c4" stroke="#a9a9a9" stroke-width="2.0"/>
<ellipse cx="457.4" cy="38.8" rx="2.10" ry="2.10" fill="#d0d0d0"/>
<ellipse cx="435" cy="40" rx="4.93" ry="4.40" fill="#c4c4c4" stroke="#a9a9a9" stroke-width="2.0"/>
<ellipse cx="435" cy="40" rx="1.89" ry="1.68" fill="#d0d0d0"/>
<ellipse cx="472.7" cy="40" rx="3.35" ry="4.40" fill="#c4c4c4" stroke="#a9a9a9" stroke-width="2.0"/>
<ellipse cx="472.7" cy="40" rx="1.26" ry="1.68" fill="#d0d0d0"/>
<ellipse cx="473" cy="23.5" rx="2.83" ry="6.50" fill="#c4c4c4" stroke="#a9a9a9" stroke-width="2.0"/>
<ellipse cx="473" cy="23.5" rx="1.05" ry="2.52" fill="#d0d0d0"/>
<ellipse cx="463.3" cy="2.4" rx="5.45" ry="3.35" fill="#c4c4c4" stroke="#a9a9a9" stroke-width="2.0"/>
<ellipse cx="463.3" cy="2.4" rx="2.10" ry="1.26" fill="#d0d0d0"/>
<ellipse cx="431.5" cy="27" rx="1.78" ry="5.45" fill="#c4c4c4" stroke="#a9a9a9" stroke-width="2.0"/>
<ellipse cx="431.5" cy="27" rx="0.63" ry="2.10" fill="#d0d0d0"/>
</g><g filter="url(#blur3)">
<ellipse cx="451.5" cy="22.6" rx="8.5" ry="8.2" fill="#8a8a8a"/>
<ellipse cx="450.9" cy="21.8" rx="7.9" ry="7.6" fill="url(#lym)"/>
<circle cx="448.9" cy="19.8" r="1.3" fill="#5c5c5c"/><circle cx="453.4" cy="22.8" r="1.1" fill="#5a5a5a"/><circle cx="449.9" cy="24.8" r="1.0" fill="#333"/>
</g></g>
<g clip-path="url(#clip4)">
<rect x="281.00" y="44.20" width="43.60" height="46.10" fill="#e3e3e3" stroke="none" stroke-width="0" />
<g filter="url(#blur1)">
<ellipse cx="290.8" cy="75.2" rx="6.50" ry="7.03" fill="#c4c4c4" stroke="#a9a9a9" stroke-width="2.0"/>
<ellipse cx="290.8" cy="75.2" rx="2.52" ry="2.73" fill="#d0d0d0"/>
<ellipse cx="316.4" cy="69.5" rx="5.45" ry="8.60" fill="#c4c4c4" stroke="#a9a9a9" stroke-width="2.0"/>
<ellipse cx="316.4" cy="69.5" rx="2.10" ry="3.36" fill="#d0d0d0"/>
<ellipse cx="299.7" cy="45.8" rx="6.50" ry="3.35" fill="#c4c4c4" stroke="#a9a9a9" stroke-width="2.0"/>
<ellipse cx="299.7" cy="45.8" rx="2.52" ry="1.26" fill="#d0d0d0"/>
<ellipse cx="313.8" cy="48.4" rx="5.45" ry="4.93" fill="#c4c4c4" stroke="#a9a9a9" stroke-width="2.0"/>
<ellipse cx="313.8" cy="48.4" rx="2.10" ry="1.89" fill="#d0d0d0"/>
<ellipse cx="303.6" cy="85.5" rx="6.50" ry="5.45" fill="#c4c4c4" stroke="#a9a9a9" stroke-width="2.0"/>
<ellipse cx="303.6" cy="85.5" rx="2.52" ry="2.10" fill="#d0d0d0"/>
<ellipse cx="283" cy="58.6" rx="2.83" ry="6.50" fill="#c4c4c4" stroke="#a9a9a9" stroke-width="2.0"/>
<ellipse cx="283" cy="58.6" rx="1.05" ry="2.52" fill="#d0d0d0"/>
<ellipse cx="316" cy="86" rx="5.45" ry="4.93" fill="#c4c4c4" stroke="#a9a9a9" stroke-width="2.0"/>
<ellipse cx="316" cy="86" rx="2.10" ry="1.89" fill="#d0d0d0"/>
</g><g filter="url(#blur3)">
<ellipse cx="299.6" cy="66.7" rx="11.0" ry="11.5" fill="#c8c8c8"/>
<ellipse cx="299.1" cy="65.7" rx="8.0" ry="9" fill="#6a6a6a"/>
<circle cx="295.20" cy="59.20" r="3.78" fill="#5e5e5e"/>
<circle cx="300.40" cy="57.90" r="3.15" fill="#505050"/>
<circle cx="304.30" cy="64.40" r="3.36" fill="#525252"/>
<circle cx="303.00" cy="70.90" r="3.15" fill="#5a5a5a"/>
<circle cx="297.80" cy="73.50" r="3.36" fill="#505050"/>
<circle cx="293.90" cy="68.30" r="2.94" fill="#5e5e5e"/>
<circle cx="299.6" cy="68.7" r="1.6" fill="#d8d8d8"/>
</g></g>
<g clip-path="url(#clip5)">
<rect x="327.00" y="44.40" width="45.50" height="46.10" fill="#e3e3e3" stroke="none" stroke-width="0" />
<g filter="url(#blur1)">
<ellipse cx="335.9" cy="56" rx="7.55" ry="7.55" fill="#c4c4c4" stroke="#a9a9a9" stroke-width="2.0"/>
<ellipse cx="335.9" cy="56" rx="2.94" ry="2.94" fill="#d0d0d0"/>
<ellipse cx="345.5" cy="51.6" rx="6.50" ry="5.98" fill="#c4c4c4" stroke="#a9a9a9" stroke-width="2.0"/>
<ellipse cx="345.5" cy="51.6" rx="2.52" ry="2.31" fill="#d0d0d0"/>
<ellipse cx="359.5" cy="51" rx="6.50" ry="6.50" fill="#c4c4c4" stroke="#a9a9a9" stroke-width="2.0"/>
<ellipse cx="359.5" cy="51" rx="2.52" ry="2.52" fill="#d0d0d0"/>
<ellipse cx="356.3" cy="62.5" rx="5.45" ry="5.45" fill="#c4c4c4" stroke="#a9a9a9" stroke-width="2.0"/>
<ellipse cx="356.3" cy="62.5" rx="2.10" ry="2.10" fill="#d0d0d0"/>
<ellipse cx="366.6" cy="68.9" rx="5.45" ry="6.50" fill="#c4c4c4" stroke="#a9a9a9" stroke-width="2.0"/>
<ellipse cx="366.6" cy="68.9" rx="2.10" ry="2.52" fill="#d0d0d0"/>
<ellipse cx="367.8" cy="83" rx="5.45" ry="5.45" fill="#c4c4c4" stroke="#a9a9a9" stroke-width="2.0"/>
<ellipse cx="367.8" cy="83" rx="2.10" ry="2.10" fill="#d0d0d0"/>
<ellipse cx="356.3" cy="81.6" rx="5.45" ry="5.98" fill="#c4c4c4" stroke="#a9a9a9" stroke-width="2.0"/>
<ellipse cx="356.3" cy="81.6" rx="2.10" ry="2.31" fill="#d0d0d0"/>
<ellipse cx="346.7" cy="85.5" rx="5.45" ry="5.45" fill="#c4c4c4" stroke="#a9a9a9" stroke-width="2.0"/>
<ellipse cx="346.7" cy="85.5" rx="2.10" ry="2.10" fill="#d0d0d0"/>
<ellipse cx="331.4" cy="84.2" rx="4.93" ry="5.98" fill="#c4c4c4" stroke="#a9a9a9" stroke-width="2.0"/>
<ellipse cx="331.4" cy="84.2" rx="1.89" ry="2.31" fill="#d0d0d0"/>
<ellipse cx="332.7" cy="70.1" rx="4.93" ry="5.98" fill="#c4c4c4" stroke="#a9a9a9" stroke-width="2.0"/>
<ellipse cx="332.7" cy="70.1" rx="1.89" ry="2.31" fill="#d0d0d0"/>
</g><g filter="url(#blur3)">
<ellipse cx="347.4" cy="70.1" rx="7.4" ry="8.8" fill="#5a5a5a"/>
<circle cx="344.4" cy="66.1" r="2.6" fill="#5e5e5e"/>
<circle cx="349.4" cy="65.1" r="2.4" fill="#505050"/>
<circle cx="350.4" cy="70.1" r="2.6" fill="#4e4e4e"/>
<circle cx="344.4" cy="72.1" r="2.6" fill="#525252"/>
<circle cx="348.4" cy="75.1" r="2.6" fill="#4c4c4c"/>
<circle cx="345.4" cy="76.1" r="2.0" fill="#585858"/>
<circle cx="347.4" cy="69.1" r="1.1" fill="#9a9a9a"/><circle cx="346.4" cy="73.1" r="0.9" fill="#8a8a8a"/>
</g></g>
<g clip-path="url(#clip6)">
<rect x="384.00" y="46.30" width="43.80" height="44.50" fill="#e3e3e3" stroke="none" stroke-width="0" />
<g filter="url(#blur1)">
<ellipse cx="392.1" cy="61.2" rx="6.50" ry="6.50" fill="#c4c4c4" stroke="#a9a9a9" stroke-width="2.0"/>
<ellipse cx="392.1" cy="61.2" rx="2.52" ry="2.52" fill="#d0d0d0"/>
<ellipse cx="399.2" cy="58.6" rx="6.50" ry="6.50" fill="#c4c4c4" stroke="#a9a9a9" stroke-width="2.0"/>
<ellipse cx="399.2" cy="58.6" rx="2.52" ry="2.52" fill="#d0d0d0"/>
<ellipse cx="414.5" cy="55.4" rx="6.50" ry="6.50" fill="#c4c4c4" stroke="#a9a9a9" stroke-width="2.0"/>
<ellipse cx="414.5" cy="55.4" rx="2.52" ry="2.52" fill="#d0d0d0"/>
<ellipse cx="402.4" cy="49.7" rx="5.45" ry="3.88" fill="#c4c4c4" stroke="#a9a9a9" stroke-width="2.0"/>
<ellipse cx="402.4" cy="49.7" rx="2.10" ry="1.47" fill="#d0d0d0"/>
<ellipse cx="418.4" cy="76.5" rx="6.50" ry="6.50" fill="#c4c4c4" stroke="#a9a9a9" stroke-width="2.0"/>
<ellipse cx="418.4" cy="76.5" rx="2.52" ry="2.52" fill="#d0d0d0"/>
<ellipse cx="412" cy="86.1" rx="6.50" ry="5.45" fill="#c4c4c4" stroke="#a9a9a9" stroke-width="2.0"/>
<ellipse cx="412" cy="86.1" rx="2.52" ry="2.10" fill="#d0d0d0"/>
<ellipse cx="424.1" cy="68.9" rx="3.88" ry="6.50" fill="#c4c4c4" stroke="#a9a9a9" stroke-width="2.0"/>
<ellipse cx="424.1" cy="68.9" rx="1.47" ry="2.52" fill="#d0d0d0"/>
<ellipse cx="387.7" cy="53.5" rx="3.88" ry="5.45" fill="#c4c4c4" stroke="#a9a9a9" stroke-width="2.0"/>
<ellipse cx="387.7" cy="53.5" rx="1.47" ry="2.10" fill="#d0d0d0"/>
</g><g filter="url(#blur3)">
<ellipse cx="406.9" cy="68.9" rx="12.0" ry="7.3" fill="#8a8a8a" transform="rotate(-30 406.9 68.9)"/>
<circle cx="399.70" cy="73.10" r="3.12" fill="#585858"/>
<circle cx="404.50" cy="70.70" r="3.36" fill="#505050"/>
<circle cx="409.30" cy="67.70" r="3.36" fill="#525252"/>
<circle cx="414.10" cy="64.70" r="3.12" fill="#585858"/>
<circle cx="403.30" cy="74.90" r="2.40" fill="#666"/>
<circle cx="410.50" cy="62.90" r="2.40" fill="#666"/>
<circle cx="407.4" cy="68.9" r="1.2" fill="#a8a8a8"/>
</g></g>
<g clip-path="url(#clip7)">
<rect x="430.60" y="46.30" width="44.80" height="44.20" fill="#e3e3e3" stroke="none" stroke-width="0" />
<g filter="url(#blur1)">
<ellipse cx="445.9" cy="51" rx="5.45" ry="4.93" fill="#c4c4c4" stroke="#a9a9a9" stroke-width="2.0"/>
<ellipse cx="445.9" cy="51" rx="2.10" ry="1.89" fill="#d0d0d0"/>
<ellipse cx="462.5" cy="52.2" rx="6.50" ry="5.98" fill="#c4c4c4" stroke="#a9a9a9" stroke-width="2.0"/>
<ellipse cx="462.5" cy="52.2" rx="2.52" ry="2.31" fill="#d0d0d0"/>
<ellipse cx="433.8" cy="59.9" rx="3.35" ry="6.50" fill="#c4c4c4" stroke="#a9a9a9" stroke-width="2.0"/>
<ellipse cx="433.8" cy="59.9" rx="1.26" ry="2.52" fill="#d0d0d0"/>
<ellipse cx="463.2" cy="63.1" rx="5.45" ry="5.45" fill="#c4c4c4" stroke="#a9a9a9" stroke-width="2.0"/>
<ellipse cx="463.2" cy="63.1" rx="2.10" ry="2.10" fill="#d0d0d0"/>
<ellipse cx="468.9" cy="74" rx="6.50" ry="6.50" fill="#c4c4c4" stroke="#a9a9a9" stroke-width="2.0"/>
<ellipse cx="468.9" cy="74" rx="2.52" ry="2.52" fill="#d0d0d0"/>
<ellipse cx="437.6" cy="77.2" rx="5.98" ry="5.98" fill="#c4c4c4" stroke="#a9a9a9" stroke-width="2.0"/>
<ellipse cx="437.6" cy="77.2" rx="2.31" ry="2.31" fill="#d0d0d0"/>
<ellipse cx="454.2" cy="79.1" rx="6.50" ry="6.50" fill="#c4c4c4" stroke="#a9a9a9" stroke-width="2.0"/>
<ellipse cx="454.2" cy="79.1" rx="2.52" ry="2.52" fill="#d0d0d0"/>
<ellipse cx="445.3" cy="86.1" rx="5.45" ry="4.93" fill="#c4c4c4" stroke="#a9a9a9" stroke-width="2.0"/>
<ellipse cx="445.3" cy="86.1" rx="2.10" ry="1.89" fill="#d0d0d0"/>
<ellipse cx="467.6" cy="85.5" rx="5.45" ry="5.45" fill="#c4c4c4" stroke="#a9a9a9" stroke-width="2.0"/>
<ellipse cx="467.6" cy="85.5" rx="2.10" ry="2.10" fill="#d0d0d0"/>
</g><g filter="url(#blur3)">
<circle cx="449.1" cy="66.3" r="9.6" fill="#8a8a8a"/>
<circle cx="454.16" cy="67.87" r="2.2" fill="#4c4c4c"/>
<circle cx="451.57" cy="70.99" r="2.6" fill="#4c4c4c"/>
<circle cx="447.53" cy="71.36" r="2.2" fill="#4c4c4c"/>
<circle cx="444.41" cy="68.77" r="2.6" fill="#4c4c4c"/>
<circle cx="444.04" cy="64.73" r="2.2" fill="#4c4c4c"/>
<circle cx="446.63" cy="61.61" r="2.6" fill="#4c4c4c"/>
<circle cx="450.67" cy="61.24" r="2.2" fill="#4c4c4c"/>
<circle cx="453.79" cy="63.83" r="2.6" fill="#4c4c4c"/>
<circle cx="442.1" cy="67.8" r="1.8" fill="#3a3a3a"/>
<circle cx="449.6" cy="66.8" r="2.6" fill="#b8b8b8"/>
</g></g>
<text x="318.80" y="105.80" font-size="10" font-weight="normal" text-anchor="start" fill="#111" font-style="normal" textLength="14.30" lengthAdjust="spacingAndGlyphs" >WT</text>
<text x="414.10" y="107.00" font-size="9.2" font-weight="normal" text-anchor="start" fill="#111" font-style="normal" textLength="16.30" lengthAdjust="spacingAndGlyphs" >Apc</text>
<text x="430.60" y="103.90" font-size="5.0" font-weight="normal" text-anchor="start" fill="#222" font-style="normal" textLength="10.20" lengthAdjust="spacingAndGlyphs"  stroke="#222" stroke-width="0.18">min</text>
<text x="0.80" y="137.80" font-size="12" font-weight="bold" text-anchor="start" fill="#000" font-style="normal" >C</text>
<text x="61.50" y="136.20" font-size="10.1" font-weight="normal" text-anchor="start" fill="#111" font-style="normal" textLength="21.20" lengthAdjust="spacingAndGlyphs" stroke="#111" stroke-width="0.22">LKS+</text>
<line x1="19.50" y1="149.20" x2="19.50" y2="217.80" stroke="#1a1a1a" stroke-width="1.0" />
<line x1="17.00" y1="149.20" x2="19.20" y2="149.20" stroke="#1a1a1a" stroke-width="0.7" />
<text x="16.30" y="150.90" font-size="4.8" font-weight="normal" text-anchor="end" fill="#1a1a1a" font-style="normal" textLength="6.80" lengthAdjust="spacingAndGlyphs"  stroke="#1a1a1a" stroke-width="0.18">0.5</text>
<line x1="17.00" y1="162.92" x2="19.20" y2="162.92" stroke="#1a1a1a" stroke-width="0.7" />
<text x="16.30" y="164.62" font-size="4.8" font-weight="normal" text-anchor="end" fill="#1a1a1a" font-style="normal" textLength="6.80" lengthAdjust="spacingAndGlyphs"  stroke="#1a1a1a" stroke-width="0.18">0.4</text>
<line x1="17.00" y1="176.64" x2="19.20" y2="176.64" stroke="#1a1a1a" stroke-width="0.7" />
<text x="16.30" y="178.34" font-size="4.8" font-weight="normal" text-anchor="end" fill="#1a1a1a" font-style="normal" textLength="6.80" lengthAdjust="spacingAndGlyphs"  stroke="#1a1a1a" stroke-width="0.18">0.3</text>
<line x1="17.00" y1="190.36" x2="19.20" y2="190.36" stroke="#1a1a1a" stroke-width="0.7" />
<text x="16.30" y="192.06" font-size="4.8" font-weight="normal" text-anchor="end" fill="#1a1a1a" font-style="normal" textLength="6.80" lengthAdjust="spacingAndGlyphs"  stroke="#1a1a1a" stroke-width="0.18">0.2</text>
<line x1="17.00" y1="204.08" x2="19.20" y2="204.08" stroke="#1a1a1a" stroke-width="0.7" />
<text x="16.30" y="205.78" font-size="4.8" font-weight="normal" text-anchor="end" fill="#1a1a1a" font-style="normal" textLength="6.80" lengthAdjust="spacingAndGlyphs"  stroke="#1a1a1a" stroke-width="0.18">0.1</text>
<line x1="17.00" y1="217.80" x2="19.20" y2="217.80" stroke="#1a1a1a" stroke-width="0.7" />
<text x="16.30" y="219.50" font-size="4.8" font-weight="normal" text-anchor="end" fill="#1a1a1a" font-style="normal" textLength="6.80" lengthAdjust="spacingAndGlyphs"  stroke="#1a1a1a" stroke-width="0.18">0.0</text>
<line x1="18.80" y1="217.50" x2="122.50" y2="217.50" stroke="#1a1a1a" stroke-width="1.0" />
<line x1="45.10" y1="217.80" x2="45.10" y2="220.00" stroke="#1a1a1a" stroke-width="0.8" />
<line x1="96.40" y1="217.80" x2="96.40" y2="220.00" stroke="#1a1a1a" stroke-width="0.8" />
<line x1="42.90" y1="152.50" x2="96.40" y2="152.50" stroke="#222" stroke-width="1.0" />
<line x1="42.50" y1="150.10" x2="42.50" y2="154.70" stroke="#222" stroke-width="1.0" />
<line x1="96.50" y1="150.10" x2="96.50" y2="154.70" stroke="#222" stroke-width="1.0" />
<text x="60.40" y="149.90" font-size="5.9" fill="#222" stroke="#222" stroke-width="0.18" textLength="18.80" lengthAdjust="spacingAndGlyphs"><tspan font-style="italic">P</tspan> = .39</text>
<circle cx="41.00" cy="188.80" r="1.35" fill="#0a0a0a" stroke="none" stroke-width="0" />
<circle cx="45.50" cy="193.00" r="1.35" fill="#0a0a0a" stroke="none" stroke-width="0" />
<circle cx="41.00" cy="197.40" r="1.35" fill="#0a0a0a" stroke="none" stroke-width="0" />
<circle cx="45.10" cy="197.80" r="1.35" fill="#0a0a0a" stroke="none" stroke-width="0" />
<circle cx="49.40" cy="197.40" r="1.35" fill="#0a0a0a" stroke="none" stroke-width="0" />
<circle cx="53.60" cy="195.60" r="1.35" fill="#0a0a0a" stroke="none" stroke-width="0" />
<line x1="28.20" y1="194.50" x2="62.80" y2="194.50" stroke="#808080" stroke-width="1.0" />
<rect x="95.25" y="158.05" width="2.30" height="2.30" fill="none" stroke="#2a2a2a" stroke-width="0.8" />
<rect x="95.55" y="181.95" width="2.30" height="2.30" fill="none" stroke="#2a2a2a" stroke-width="0.8" />
<rect x="95.55" y="188.95" width="2.30" height="2.30" fill="none" stroke="#2a2a2a" stroke-width="0.8" />
<rect x="91.45" y="197.25" width="2.30" height="2.30" fill="none" stroke="#2a2a2a" stroke-width="0.8" />
<rect x="95.55" y="201.05" width="2.30" height="2.30" fill="none" stroke="#2a2a2a" stroke-width="0.8" />
<rect x="99.85" y="198.45" width="2.30" height="2.30" fill="none" stroke="#2a2a2a" stroke-width="0.8" />
<line x1="80.30" y1="188.50" x2="113.30" y2="188.50" stroke="#808080" stroke-width="1.0" />
<text x="46.00" y="225.20" font-size="4.6" font-weight="normal" text-anchor="end" fill="#333" font-style="normal" textLength="7.60" lengthAdjust="spacingAndGlyphs" transform="rotate(-45 46.00 225.20)"  stroke="#333" stroke-width="0.18">WT</text>
<text x="97.30" y="224.70" font-size="4.8" text-anchor="end" fill="#333" stroke="#333" stroke-width="0.18" transform="rotate(-45 97.30 224.70)">Apc<tspan font-size="4.0" dy="-1.4" fill="#666" stroke="#666">min</tspan></text>
<text x="6.30" y="184.00" font-size="5.2" font-weight="normal" text-anchor="middle" fill="#1a1a1a" font-style="normal" textLength="51.50" lengthAdjust="spacingAndGlyphs" transform="rotate(-90 6.30 184.00)"  stroke="#1a1a1a" stroke-width="0.18">%total bone marrow</text>
<text x="130.60" y="137.20" font-size="12" font-weight="bold" text-anchor="start" fill="#000" font-style="normal" >D</text>
<text x="190.10" y="136.30" font-size="10.1" font-weight="normal" text-anchor="start" fill="#111" font-style="normal" textLength="22.40" lengthAdjust="spacingAndGlyphs" stroke="#111" stroke-width="0.22">GMP</text>
<line x1="149.50" y1="150.00" x2="149.50" y2="217.40" stroke="#1a1a1a" stroke-width="1.0" />
<line x1="147.10" y1="150.00" x2="149.30" y2="150.00" stroke="#1a1a1a" stroke-width="0.7" />
<text x="146.40" y="151.70" font-size="4.8" font-weight="normal" text-anchor="end" fill="#1a1a1a" font-style="normal" textLength="6.80" lengthAdjust="spacingAndGlyphs"  stroke="#1a1a1a" stroke-width="0.18">0.5</text>
<line x1="147.10" y1="163.48" x2="149.30" y2="163.48" stroke="#1a1a1a" stroke-width="0.7" />
<text x="146.40" y="165.18" font-size="4.8" font-weight="normal" text-anchor="end" fill="#1a1a1a" font-style="normal" textLength="6.80" lengthAdjust="spacingAndGlyphs"  stroke="#1a1a1a" stroke-width="0.18">0.4</text>
<line x1="147.10" y1="176.96" x2="149.30" y2="176.96" stroke="#1a1a1a" stroke-width="0.7" />
<text x="146.40" y="178.66" font-size="4.8" font-weight="normal" text-anchor="end" fill="#1a1a1a" font-style="normal" textLength="6.80" lengthAdjust="spacingAndGlyphs"  stroke="#1a1a1a" stroke-width="0.18">0.3</text>
<line x1="147.10" y1="190.44" x2="149.30" y2="190.44" stroke="#1a1a1a" stroke-width="0.7" />
<text x="146.40" y="192.14" font-size="4.8" font-weight="normal" text-anchor="end" fill="#1a1a1a" font-style="normal" textLength="6.80" lengthAdjust="spacingAndGlyphs"  stroke="#1a1a1a" stroke-width="0.18">0.2</text>
<line x1="147.10" y1="203.92" x2="149.30" y2="203.92" stroke="#1a1a1a" stroke-width="0.7" />
<text x="146.40" y="205.62" font-size="4.8" font-weight="normal" text-anchor="end" fill="#1a1a1a" font-style="normal" textLength="6.80" lengthAdjust="spacingAndGlyphs"  stroke="#1a1a1a" stroke-width="0.18">0.1</text>
<line x1="147.10" y1="217.40" x2="149.30" y2="217.40" stroke="#1a1a1a" stroke-width="0.7" />
<text x="146.40" y="219.10" font-size="4.8" font-weight="normal" text-anchor="end" fill="#1a1a1a" font-style="normal" textLength="6.80" lengthAdjust="spacingAndGlyphs"  stroke="#1a1a1a" stroke-width="0.18">0.0</text>
<line x1="148.90" y1="217.50" x2="249.50" y2="217.50" stroke="#1a1a1a" stroke-width="1.0" />
<line x1="174.30" y1="217.40" x2="174.30" y2="219.60" stroke="#1a1a1a" stroke-width="0.8" />
<line x1="224.60" y1="217.40" x2="224.60" y2="219.60" stroke="#1a1a1a" stroke-width="0.8" />
<line x1="173.50" y1="156.50" x2="223.60" y2="156.50" stroke="#222" stroke-width="1.0" />
<line x1="173.50" y1="153.90" x2="173.50" y2="158.50" stroke="#222" stroke-width="1.0" />
<line x1="223.50" y1="153.90" x2="223.50" y2="158.50" stroke="#222" stroke-width="1.0" />
<text x="190.10" y="153.40" font-size="5.9" fill="#222" stroke="#222" stroke-width="0.18" textLength="19.20" lengthAdjust="spacingAndGlyphs"><tspan font-style="italic">P</tspan> = .64</text>
<circle cx="174.20" cy="162.20" r="1.35" fill="#0a0a0a" stroke="none" stroke-width="0" />
<circle cx="173.90" cy="173.30" r="1.35" fill="#0a0a0a" stroke="none" stroke-width="0" />
<circle cx="173.90" cy="181.30" r="1.35" fill="#0a0a0a" stroke="none" stroke-width="0" />
<circle cx="170.10" cy="206.30" r="1.35" fill="#0a0a0a" stroke="none" stroke-width="0" />
<circle cx="174.50" cy="207.60" r="1.35" fill="#0a0a0a" stroke="none" stroke-width="0" />
<circle cx="174.50" cy="212.00" r="1.35" fill="#0a0a0a" stroke="none" stroke-width="0" />
<line x1="157.60" y1="190.50" x2="191.20" y2="190.50" stroke="#808080" stroke-width="1.0" />
<rect x="223.45" y="183.05" width="2.30" height="2.30" fill="none" stroke="#2a2a2a" stroke-width="0.8" />
<rect x="227.65" y="188.05" width="2.30" height="2.30" fill="none" stroke="#2a2a2a" stroke-width="0.8" />
<rect x="223.45" y="190.85" width="2.30" height="2.30" fill="none" stroke="#2a2a2a" stroke-width="0.8" />
<rect x="219.15" y="196.35" width="2.30" height="2.30" fill="none" stroke="#2a2a2a" stroke-width="0.8" />
<rect x="223.45" y="198.55" width="2.30" height="2.30" fill="none" stroke="#2a2a2a" stroke-width="0.8" />
<rect x="223.45" y="205.85" width="2.30" height="2.30" fill="none" stroke="#2a2a2a" stroke-width="0.8" />
<line x1="208.30" y1="195.50" x2="241.20" y2="195.50" stroke="#808080" stroke-width="1.0" />
<text x="175.20" y="224.80" font-size="4.6" font-weight="normal" text-anchor="end" fill="#333" font-style="normal" textLength="7.60" lengthAdjust="spacingAndGlyphs" transform="rotate(-45 175.20 224.80)"  stroke="#333" stroke-width="0.18">WT</text>
<text x="225.50" y="224.30" font-size="4.8" text-anchor="end" fill="#333" stroke="#333" stroke-width="0.18" transform="rotate(-45 225.50 224.30)">Apc<tspan font-size="4.0" dy="-1.4" fill="#666" stroke="#666">min</tspan></text>
<text x="135.40" y="184.20" font-size="5.2" font-weight="normal" text-anchor="middle" fill="#1a1a1a" font-style="normal" textLength="51.50" lengthAdjust="spacingAndGlyphs" transform="rotate(-90 135.40 184.20)"  stroke="#1a1a1a" stroke-width="0.18">%total bone marrow</text>
<text x="261.00" y="137.20" font-size="12" font-weight="bold" text-anchor="start" fill="#000" font-style="normal" >E</text>
<text x="322.50" y="136.20" font-size="10.1" font-weight="normal" text-anchor="start" fill="#111" font-style="normal" textLength="21.60" lengthAdjust="spacingAndGlyphs" stroke="#111" stroke-width="0.22">CMP</text>
<line x1="280.50" y1="149.60" x2="280.50" y2="217.80" stroke="#1a1a1a" stroke-width="1.0" />
<line x1="278.20" y1="149.60" x2="280.40" y2="149.60" stroke="#1a1a1a" stroke-width="0.7" />
<text x="277.50" y="151.30" font-size="4.8" font-weight="normal" text-anchor="end" fill="#1a1a1a" font-style="normal" textLength="6.80" lengthAdjust="spacingAndGlyphs"  stroke="#1a1a1a" stroke-width="0.18">0.5</text>
<line x1="278.20" y1="163.24" x2="280.40" y2="163.24" stroke="#1a1a1a" stroke-width="0.7" />
<text x="277.50" y="164.94" font-size="4.8" font-weight="normal" text-anchor="end" fill="#1a1a1a" font-style="normal" textLength="6.80" lengthAdjust="spacingAndGlyphs"  stroke="#1a1a1a" stroke-width="0.18">0.4</text>
<line x1="278.20" y1="176.88" x2="280.40" y2="176.88" stroke="#1a1a1a" stroke-width="0.7" />
<text x="277.50" y="178.58" font-size="4.8" font-weight="normal" text-anchor="end" fill="#1a1a1a" font-style="normal" textLength="6.80" lengthAdjust="spacingAndGlyphs"  stroke="#1a1a1a" stroke-width="0.18">0.3</text>
<line x1="278.20" y1="190.52" x2="280.40" y2="190.52" stroke="#1a1a1a" stroke-width="0.7" />
<text x="277.50" y="192.22" font-size="4.8" font-weight="normal" text-anchor="end" fill="#1a1a1a" font-style="normal" textLength="6.80" lengthAdjust="spacingAndGlyphs"  stroke="#1a1a1a" stroke-width="0.18">0.2</text>
<line x1="278.20" y1="204.16" x2="280.40" y2="204.16" stroke="#1a1a1a" stroke-width="0.7" />
<text x="277.50" y="205.86" font-size="4.8" font-weight="normal" text-anchor="end" fill="#1a1a1a" font-style="normal" textLength="6.80" lengthAdjust="spacingAndGlyphs"  stroke="#1a1a1a" stroke-width="0.18">0.1</text>
<line x1="278.20" y1="217.80" x2="280.40" y2="217.80" stroke="#1a1a1a" stroke-width="0.7" />
<text x="277.50" y="219.50" font-size="4.8" font-weight="normal" text-anchor="end" fill="#1a1a1a" font-style="normal" textLength="6.80" lengthAdjust="spacingAndGlyphs"  stroke="#1a1a1a" stroke-width="0.18">0.0</text>
<line x1="280.00" y1="217.50" x2="382.70" y2="217.50" stroke="#1a1a1a" stroke-width="1.0" />
<line x1="306.00" y1="217.80" x2="306.00" y2="220.00" stroke="#1a1a1a" stroke-width="0.8" />
<line x1="357.10" y1="217.80" x2="357.10" y2="220.00" stroke="#1a1a1a" stroke-width="0.8" />
<line x1="303.30" y1="150.50" x2="357.10" y2="150.50" stroke="#222" stroke-width="1.0" />
<line x1="303.50" y1="148.20" x2="303.50" y2="152.80" stroke="#222" stroke-width="1.0" />
<line x1="357.50" y1="148.20" x2="357.50" y2="152.80" stroke="#222" stroke-width="1.0" />
<text x="322.40" y="148.40" font-size="5.9" fill="#222" stroke="#222" stroke-width="0.18" textLength="17.90" lengthAdjust="spacingAndGlyphs"><tspan font-style="italic">P</tspan> = .17</text>
<circle cx="305.80" cy="177.10" r="1.35" fill="#0a0a0a" stroke="none" stroke-width="0" />
<circle cx="302.00" cy="182.70" r="1.35" fill="#0a0a0a" stroke="none" stroke-width="0" />
<circle cx="306.30" cy="186.00" r="1.35" fill="#0a0a0a" stroke="none" stroke-width="0" />
<circle cx="302.00" cy="190.40" r="1.35" fill="#0a0a0a" stroke="none" stroke-width="0" />
<circle cx="310.20" cy="191.90" r="1.35" fill="#0a0a0a" stroke="none" stroke-width="0" />
<circle cx="306.30" cy="194.20" r="1.35" fill="#0a0a0a" stroke="none" stroke-width="0" />
<line x1="289.10" y1="187.50" x2="323.30" y2="187.50" stroke="#808080" stroke-width="1.0" />
<rect x="355.95" y="159.85" width="2.30" height="2.30" fill="none" stroke="#2a2a2a" stroke-width="0.8" />
<rect x="355.95" y="170.85" width="2.30" height="2.30" fill="none" stroke="#2a2a2a" stroke-width="0.8" />
<rect x="360.55" y="169.55" width="2.30" height="2.30" fill="none" stroke="#2a2a2a" stroke-width="0.8" />
<rect x="355.95" y="184.85" width="2.30" height="2.30" fill="none" stroke="#2a2a2a" stroke-width="0.8" />
<rect x="355.95" y="190.75" width="2.30" height="2.30" fill="none" stroke="#2a2a2a" stroke-width="0.8" />
<rect x="360.55" y="189.25" width="2.30" height="2.30" fill="none" stroke="#2a2a2a" stroke-width="0.8" />
<line x1="340.50" y1="178.50" x2="375.00" y2="178.50" stroke="#808080" stroke-width="1.0" />
<text x="306.90" y="225.20" font-size="4.6" font-weight="normal" text-anchor="end" fill="#333" font-style="normal" textLength="7.60" lengthAdjust="spacingAndGlyphs" transform="rotate(-45 306.90 225.20)"  stroke="#333" stroke-width="0.18">WT</text>
<text x="358.00" y="224.70" font-size="4.8" text-anchor="end" fill="#333" stroke="#333" stroke-width="0.18" transform="rotate(-45 358.00 224.70)">Apc<tspan font-size="4.0" dy="-1.4" fill="#666" stroke="#666">min</tspan></text>
<text x="267.10" y="184.20" font-size="5.2" font-weight="normal" text-anchor="middle" fill="#1a1a1a" font-style="normal" textLength="51.50" lengthAdjust="spacingAndGlyphs" transform="rotate(-90 267.10 184.20)"  stroke="#1a1a1a" stroke-width="0.18">%total bone marrow</text>
<text x="393.40" y="137.20" font-size="12" font-weight="bold" text-anchor="start" fill="#000" font-style="normal" >F</text>
<text x="450.40" y="136.60" font-size="10.1" font-weight="normal" text-anchor="start" fill="#111" font-style="normal" textLength="20.60" lengthAdjust="spacingAndGlyphs" stroke="#111" stroke-width="0.22">MEP</text>
<line x1="412.50" y1="152.40" x2="412.50" y2="217.50" stroke="#1a1a1a" stroke-width="1.0" />
<line x1="409.80" y1="152.40" x2="412.00" y2="152.40" stroke="#1a1a1a" stroke-width="0.7" />
<text x="409.10" y="154.10" font-size="4.8" font-weight="normal" text-anchor="end" fill="#1a1a1a" font-style="normal" textLength="6.80" lengthAdjust="spacingAndGlyphs"  stroke="#1a1a1a" stroke-width="0.18">0.3</text>
<line x1="409.80" y1="174.10" x2="412.00" y2="174.10" stroke="#1a1a1a" stroke-width="0.7" />
<text x="409.10" y="175.80" font-size="4.8" font-weight="normal" text-anchor="end" fill="#1a1a1a" font-style="normal" textLength="6.80" lengthAdjust="spacingAndGlyphs"  stroke="#1a1a1a" stroke-width="0.18">0.2</text>
<line x1="409.80" y1="195.80" x2="412.00" y2="195.80" stroke="#1a1a1a" stroke-width="0.7" />
<text x="409.10" y="197.50" font-size="4.8" font-weight="normal" text-anchor="end" fill="#1a1a1a" font-style="normal" textLength="6.80" lengthAdjust="spacingAndGlyphs"  stroke="#1a1a1a" stroke-width="0.18">0.1</text>
<line x1="409.80" y1="217.50" x2="412.00" y2="217.50" stroke="#1a1a1a" stroke-width="0.7" />
<text x="409.10" y="219.20" font-size="4.8" font-weight="normal" text-anchor="end" fill="#1a1a1a" font-style="normal" textLength="6.80" lengthAdjust="spacingAndGlyphs"  stroke="#1a1a1a" stroke-width="0.18">0.0</text>
<line x1="411.60" y1="217.50" x2="509.80" y2="217.50" stroke="#1a1a1a" stroke-width="1.0" />
<line x1="437.10" y1="217.50" x2="437.10" y2="219.70" stroke="#1a1a1a" stroke-width="0.8" />
<line x1="486.00" y1="217.50" x2="486.00" y2="219.70" stroke="#1a1a1a" stroke-width="0.8" />
<line x1="435.80" y1="154.50" x2="485.70" y2="154.50" stroke="#222" stroke-width="1.0" />
<line x1="435.50" y1="152.10" x2="435.50" y2="156.70" stroke="#222" stroke-width="1.0" />
<line x1="485.50" y1="152.10" x2="485.50" y2="156.70" stroke="#222" stroke-width="1.0" />
<text x="451.20" y="152.40" font-size="5.9" fill="#222" stroke="#222" stroke-width="0.18" textLength="19.10" lengthAdjust="spacingAndGlyphs"><tspan font-style="italic">P</tspan> = .37</text>
<circle cx="437.10" cy="163.00" r="1.35" fill="#0a0a0a" stroke="none" stroke-width="0" />
<circle cx="437.10" cy="182.70" r="1.35" fill="#0a0a0a" stroke="none" stroke-width="0" />
<circle cx="432.70" cy="191.20" r="1.35" fill="#0a0a0a" stroke="none" stroke-width="0" />
<circle cx="437.10" cy="191.70" r="1.35" fill="#0a0a0a" stroke="none" stroke-width="0" />
<circle cx="440.90" cy="196.30" r="1.35" fill="#0a0a0a" stroke="none" stroke-width="0" />
<circle cx="437.10" cy="198.30" r="1.35" fill="#0a0a0a" stroke="none" stroke-width="0" />
<line x1="420.50" y1="187.50" x2="453.70" y2="187.50" stroke="#808080" stroke-width="1.0" />
<rect x="484.85" y="164.45" width="2.30" height="2.30" fill="none" stroke="#2a2a2a" stroke-width="0.8" />
<rect x="484.85" y="170.85" width="2.30" height="2.30" fill="none" stroke="#2a2a2a" stroke-width="0.8" />
<rect x="484.85" y="175.15" width="2.30" height="2.30" fill="none" stroke="#2a2a2a" stroke-width="0.8" />
<rect x="484.85" y="180.25" width="2.30" height="2.30" fill="none" stroke="#2a2a2a" stroke-width="0.8" />
<rect x="484.85" y="189.45" width="2.30" height="2.30" fill="none" stroke="#2a2a2a" stroke-width="0.8" />
<rect x="484.85" y="197.15" width="2.30" height="2.30" fill="none" stroke="#2a2a2a" stroke-width="0.8" />
<line x1="469.80" y1="180.50" x2="502.10" y2="180.50" stroke="#808080" stroke-width="1.0" />
<text x="438.00" y="224.90" font-size="4.6" font-weight="normal" text-anchor="end" fill="#333" font-style="normal" textLength="7.60" lengthAdjust="spacingAndGlyphs" transform="rotate(-45 438.00 224.90)"  stroke="#333" stroke-width="0.18">WT</text>
<text x="486.90" y="224.40" font-size="4.8" text-anchor="end" fill="#333" stroke="#333" stroke-width="0.18" transform="rotate(-45 486.90 224.40)">Apc<tspan font-size="4.0" dy="-1.4" fill="#666" stroke="#666">min</tspan></text>
<text x="399.10" y="185.45" font-size="5.2" font-weight="normal" text-anchor="middle" fill="#1a1a1a" font-style="normal" textLength="51.50" lengthAdjust="spacingAndGlyphs" transform="rotate(-90 399.10 185.45)"  stroke="#1a1a1a" stroke-width="0.18">%total bone marrow</text>
<text x="1.00" y="258.80" font-size="12" font-weight="bold" text-anchor="start" fill="#000" font-style="normal" >G</text>
<text x="18.80" y="269.20" font-size="9.6" font-weight="normal" text-anchor="start" fill="#111" font-style="normal" textLength="113.90" lengthAdjust="spacingAndGlyphs" stroke="#111" stroke-width="0.22">MPP, ST-HSC and LT-HSC</text>
<line x1="19.50" y1="289.80" x2="19.50" y2="357.30" stroke="#1a1a1a" stroke-width="1.0" />
<line x1="17.20" y1="289.80" x2="19.40" y2="289.80" stroke="#1a1a1a" stroke-width="0.7" />
<text x="16.60" y="291.60" font-size="5.2" font-weight="normal" text-anchor="end" fill="#1a1a1a" font-style="normal"  stroke="#1a1a1a" stroke-width="0.18">50</text>
<line x1="17.20" y1="303.30" x2="19.40" y2="303.30" stroke="#1a1a1a" stroke-width="0.7" />
<text x="16.60" y="305.10" font-size="5.2" font-weight="normal" text-anchor="end" fill="#1a1a1a" font-style="normal"  stroke="#1a1a1a" stroke-width="0.18">40</text>
<line x1="17.20" y1="316.80" x2="19.40" y2="316.80" stroke="#1a1a1a" stroke-width="0.7" />
<text x="16.60" y="318.60" font-size="5.2" font-weight="normal" text-anchor="end" fill="#1a1a1a" font-style="normal"  stroke="#1a1a1a" stroke-width="0.18">30</text>
<line x1="17.20" y1="330.30" x2="19.40" y2="330.30" stroke="#1a1a1a" stroke-width="0.7" />
<text x="16.60" y="332.10" font-size="5.2" font-weight="normal" text-anchor="end" fill="#1a1a1a" font-style="normal"  stroke="#1a1a1a" stroke-width="0.18">20</text>
<line x1="17.20" y1="343.80" x2="19.40" y2="343.80" stroke="#1a1a1a" stroke-width="0.7" />
<text x="16.60" y="345.60" font-size="5.2" font-weight="normal" text-anchor="end" fill="#1a1a1a" font-style="normal"  stroke="#1a1a1a" stroke-width="0.18">10</text>
<line x1="17.20" y1="357.30" x2="19.40" y2="357.30" stroke="#1a1a1a" stroke-width="0.7" />
<text x="16.60" y="359.10" font-size="5.2" font-weight="normal" text-anchor="end" fill="#1a1a1a" font-style="normal"  stroke="#1a1a1a" stroke-width="0.18">0</text>
<line x1="19.00" y1="357.50" x2="120.40" y2="357.50" stroke="#1a1a1a" stroke-width="1.0" />
<line x1="28.30" y1="357.30" x2="28.30" y2="359.50" stroke="#1a1a1a" stroke-width="0.8" />
<line x1="45.10" y1="357.30" x2="45.10" y2="359.50" stroke="#1a1a1a" stroke-width="0.8" />
<line x1="61.90" y1="357.30" x2="61.90" y2="359.50" stroke="#1a1a1a" stroke-width="0.8" />
<line x1="78.60" y1="357.30" x2="78.60" y2="359.50" stroke="#1a1a1a" stroke-width="0.8" />
<line x1="95.40" y1="357.30" x2="95.40" y2="359.50" stroke="#1a1a1a" stroke-width="0.8" />
<line x1="112.10" y1="357.30" x2="112.10" y2="359.50" stroke="#1a1a1a" stroke-width="0.8" />
<line x1="27.30" y1="296.50" x2="44.50" y2="296.50" stroke="#222" stroke-width="1.0" />
<line x1="27.50" y1="294.20" x2="27.50" y2="298.20" stroke="#222" stroke-width="1.0" />
<line x1="44.50" y1="294.20" x2="44.50" y2="298.20" stroke="#222" stroke-width="1.0" />
<text x="26.90" y="289.90" font-size="5.9" fill="#222" stroke="#222" stroke-width="0.18" textLength="18.90" lengthAdjust="spacingAndGlyphs"><tspan font-style="italic">P</tspan> = .35</text>
<line x1="59.80" y1="296.50" x2="77.20" y2="296.50" stroke="#222" stroke-width="1.0" />
<line x1="59.50" y1="294.20" x2="59.50" y2="298.20" stroke="#222" stroke-width="1.0" />
<line x1="77.50" y1="294.20" x2="77.50" y2="298.20" stroke="#222" stroke-width="1.0" />
<text x="59.30" y="289.90" font-size="5.9" fill="#222" stroke="#222" stroke-width="0.18" textLength="18.90" lengthAdjust="spacingAndGlyphs"><tspan font-style="italic">P</tspan> = .33</text>
<line x1="96.20" y1="296.50" x2="113.00" y2="296.50" stroke="#222" stroke-width="1.0" />
<line x1="96.50" y1="294.20" x2="96.50" y2="298.20" stroke="#222" stroke-width="1.0" />
<line x1="113.50" y1="294.20" x2="113.50" y2="298.20" stroke="#222" stroke-width="1.0" />
<text x="95.60" y="289.90" font-size="5.9" fill="#222" stroke="#222" stroke-width="0.18" textLength="18.90" lengthAdjust="spacingAndGlyphs"><tspan font-style="italic">P</tspan> = .28</text>
<circle cx="23.80" cy="307.70" r="1.40" fill="#0a0a0a" stroke="none" stroke-width="0" />
<circle cx="27.80" cy="301.90" r="1.40" fill="#0a0a0a" stroke="none" stroke-width="0" />
<circle cx="27.80" cy="311.00" r="1.40" fill="#0a0a0a" stroke="none" stroke-width="0" />
<circle cx="27.80" cy="316.40" r="1.40" fill="#0a0a0a" stroke="none" stroke-width="0" />
<line x1="24.90" y1="309.50" x2="33.80" y2="309.50" stroke="#808080" stroke-width="1.0" />
<circle cx="40.50" cy="308.80" r="1.55" fill="none" stroke="#333" stroke-width="0.75" />
<circle cx="44.90" cy="309.20" r="1.55" fill="none" stroke="#333" stroke-width="0.75" />
<circle cx="48.80" cy="315.80" r="1.55" fill="none" stroke="#333" stroke-width="0.75" />
<circle cx="44.50" cy="318.50" r="1.55" fill="none" stroke="#333" stroke-width="0.75" />
<line x1="38.40" y1="313.50" x2="50.30" y2="313.50" stroke="#808080" stroke-width="1.0" />
<circle cx="61.60" cy="323.10" r="1.20" fill="#0a0a0a" stroke="none" stroke-width="0" />
<path d="M57.60,338.00 L59.28,340.88 L55.92,340.88Z" fill="#0a0a0a" stroke="none" stroke-width="0"/>
<path d="M61.80,340.20 L63.48,343.08 L60.12,343.08Z" fill="#0a0a0a" stroke="none" stroke-width="0"/>
<path d="M66.00,339.80 L67.68,342.68 L64.32,342.68Z" fill="#0a0a0a" stroke="none" stroke-width="0"/>
<line x1="56.40" y1="336.50" x2="67.20" y2="336.50" stroke="#808080" stroke-width="1.0" />
<path d="M74.50,338.80 L76.08,341.50 L72.92,341.50Z" fill="none" stroke="#222" stroke-width="0.6"/>
<path d="M78.70,337.20 L80.28,339.90 L77.12,339.90Z" fill="none" stroke="#222" stroke-width="0.6"/>
<path d="M78.70,341.70 L80.28,344.40 L77.12,344.40Z" fill="none" stroke="#222" stroke-width="0.6"/>
<path d="M82.30,341.70 L83.88,344.40 L80.72,344.40Z" fill="none" stroke="#222" stroke-width="0.6"/>
<line x1="72.70" y1="340.50" x2="84.50" y2="340.50" stroke="#808080" stroke-width="1.0" />
<path d="M91.40,337.10 L93.00,338.70 L91.40,340.30 L89.80,338.70Z" fill="#0a0a0a" stroke="none" stroke-width="0"/>
<path d="M95.40,335.10 L97.00,336.70 L95.40,338.30 L93.80,336.70Z" fill="#0a0a0a" stroke="none" stroke-width="0"/>
<path d="M95.40,341.10 L97.00,342.70 L95.40,344.30 L93.80,342.70Z" fill="#0a0a0a" stroke="none" stroke-width="0"/>
<path d="M99.40,337.50 L101.00,339.10 L99.40,340.70 L97.80,339.10Z" fill="#0a0a0a" stroke="none" stroke-width="0"/>
<line x1="89.90" y1="339.50" x2="101.20" y2="339.50" stroke="#555" stroke-width="1.0" />
<circle cx="108.00" cy="337.00" r="1.25" fill="none" stroke="#222" stroke-width="0.7" />
<circle cx="112.40" cy="334.30" r="1.25" fill="none" stroke="#222" stroke-width="0.7" />
<circle cx="112.40" cy="340.20" r="1.25" fill="none" stroke="#222" stroke-width="0.7" />
<circle cx="116.60" cy="338.30" r="1.25" fill="none" stroke="#222" stroke-width="0.7" />
<line x1="107.20" y1="337.50" x2="118.00" y2="337.50" stroke="#808080" stroke-width="1.0" />
<text x="29.90" y="363.50" font-size="5.3" text-anchor="end" fill="#3a3a3a" stroke="#3a3a3a" stroke-width="0.15" transform="rotate(-45 29.90 363.50)">WT MPP</text>
<text x="46.70" y="363.50" font-size="5.3" text-anchor="end" fill="#3a3a3a" stroke="#3a3a3a" stroke-width="0.15" transform="rotate(-45 46.70 363.50)">Apc<tspan font-size="3.8" dy="-1.5" fill="#666" stroke="#666">min</tspan><tspan dy="1.5"> MPP</tspan></text>
<text x="63.50" y="363.50" font-size="5.3" text-anchor="end" fill="#3a3a3a" stroke="#3a3a3a" stroke-width="0.15" transform="rotate(-45 63.50 363.50)">WT ST-HSC</text>
<text x="80.20" y="363.50" font-size="5.3" text-anchor="end" fill="#3a3a3a" stroke="#3a3a3a" stroke-width="0.15" transform="rotate(-45 80.20 363.50)">Apc<tspan font-size="3.8" dy="-1.5" fill="#666" stroke="#666">min</tspan><tspan dy="1.5"> ST-HSC</tspan></text>
<text x="97.00" y="363.50" font-size="5.3" text-anchor="end" fill="#3a3a3a" stroke="#3a3a3a" stroke-width="0.15" transform="rotate(-45 97.00 363.50)">WT LT-HSC</text>
<text x="113.70" y="363.50" font-size="5.3" text-anchor="end" fill="#3a3a3a" stroke="#3a3a3a" stroke-width="0.15" transform="rotate(-45 113.70 363.50)">Apc<tspan font-size="3.8" dy="-1.5" fill="#666" stroke="#666">min</tspan><tspan dy="1.5"> LT-HSC</tspan></text>
<text x="6.20" y="323.60" font-size="5.6" font-weight="bold" text-anchor="middle" fill="#1a1a1a" font-style="normal" textLength="42.70" lengthAdjust="spacingAndGlyphs" transform="rotate(-90 6.20 323.60)" >% of LKS+ cells</text>
<text x="144.80" y="258.80" font-size="12" font-weight="bold" text-anchor="start" fill="#000" font-style="normal" >H</text>
<text x="178.7" y="266.7" font-size="9.2" fill="#111" stroke="#111" stroke-width="0.22" textLength="76.9" lengthAdjust="spacingAndGlyphs">CD150<tspan font-size="5.5" dy="-3.5">+</tspan><tspan dy="3.5">CD48</tspan><tspan font-size="5.5" dy="-3.5">-</tspan><tspan dy="3.5">LKS</tspan><tspan font-size="5.5" dy="-3.5">+</tspan></text>
<line x1="160.50" y1="284.30" x2="160.50" y2="358.20" stroke="#1a1a1a" stroke-width="1.0" />
<line x1="158.00" y1="284.30" x2="160.20" y2="284.30" stroke="#1a1a1a" stroke-width="0.7" />
<text x="157.40" y="286.10" font-size="5.2" font-weight="normal" text-anchor="end" fill="#1a1a1a" font-style="normal"  stroke="#1a1a1a" stroke-width="0.18">15</text>
<line x1="158.00" y1="308.93" x2="160.20" y2="308.93" stroke="#1a1a1a" stroke-width="0.7" />
<text x="157.40" y="310.73" font-size="5.2" font-weight="normal" text-anchor="end" fill="#1a1a1a" font-style="normal"  stroke="#1a1a1a" stroke-width="0.18">10</text>
<line x1="158.00" y1="333.57" x2="160.20" y2="333.57" stroke="#1a1a1a" stroke-width="0.7" />
<text x="157.40" y="335.37" font-size="5.2" font-weight="normal" text-anchor="end" fill="#1a1a1a" font-style="normal"  stroke="#1a1a1a" stroke-width="0.18">5</text>
<line x1="158.00" y1="358.20" x2="160.20" y2="358.20" stroke="#1a1a1a" stroke-width="0.7" />
<text x="157.40" y="360.00" font-size="5.2" font-weight="normal" text-anchor="end" fill="#1a1a1a" font-style="normal"  stroke="#1a1a1a" stroke-width="0.18">0</text>
<line x1="159.80" y1="358.50" x2="270.90" y2="358.50" stroke="#1a1a1a" stroke-width="1.0" />
<line x1="188.00" y1="358.20" x2="188.00" y2="360.40" stroke="#1a1a1a" stroke-width="0.8" />
<line x1="243.40" y1="358.20" x2="243.40" y2="360.40" stroke="#1a1a1a" stroke-width="0.8" />
<line x1="188.00" y1="284.50" x2="240.60" y2="284.50" stroke="#222" stroke-width="1.0" />
<line x1="188.50" y1="282.60" x2="188.50" y2="287.20" stroke="#222" stroke-width="1.0" />
<line x1="240.50" y1="282.60" x2="240.50" y2="287.20" stroke="#222" stroke-width="1.0" />
<text x="200.40" y="283.20" font-size="5.6" fill="#222" stroke="#222" stroke-width="0.18" textLength="20.70" lengthAdjust="spacingAndGlyphs"><tspan font-style="italic">P</tspan> = .71</text>
<circle cx="188.00" cy="307.20" r="1.50" fill="#0a0a0a" stroke="none" stroke-width="0" />
<circle cx="192.60" cy="315.80" r="1.50" fill="#0a0a0a" stroke="none" stroke-width="0" />
<circle cx="188.00" cy="320.20" r="1.50" fill="#0a0a0a" stroke="none" stroke-width="0" />
<line x1="169.40" y1="314.50" x2="206.60" y2="314.50" stroke="#808080" stroke-width="1.0" />
<rect x="237.60" y="300.20" width="2.80" height="2.80" fill="#0a0a0a" stroke="#0a0a0a" stroke-width="0.2" />
<rect x="242.30" y="302.00" width="2.80" height="2.80" fill="#0a0a0a" stroke="#0a0a0a" stroke-width="0.2" />
<rect x="242.30" y="325.90" width="2.80" height="2.80" fill="#0a0a0a" stroke="#0a0a0a" stroke-width="0.2" />
<line x1="225.10" y1="310.50" x2="262.00" y2="310.50" stroke="#808080" stroke-width="1.0" />
<text x="190.00" y="364.20" font-size="5.6" font-weight="normal" text-anchor="end" fill="#333" font-style="normal" textLength="9.20" lengthAdjust="spacingAndGlyphs" transform="rotate(-45 190.00 364.20)"  stroke="#333" stroke-width="0.18">WT</text>
<text x="244.6" y="364.2" font-size="5.6" text-anchor="end" fill="#333" stroke="#333" stroke-width="0.18" transform="rotate(-45 244.6 364.2)">Apc<tspan font-size="3.8" dy="-1.7">min</tspan></text>
<text x="146.50" y="322.00" font-size="5.0" font-weight="bold" text-anchor="middle" fill="#1a1a1a" font-style="normal" textLength="41.80" lengthAdjust="spacingAndGlyphs" transform="rotate(-90 146.50 322.00)" >% of LKS+ cells</text>
<rect x="285.00" y="249.20" width="2.20" height="8.60" fill="#0a0a0a" stroke="none" stroke-width="0" />
<line x1="323.50" y1="269.00" x2="323.50" y2="357.50" stroke="#1a1a1a" stroke-width="1.0" />
<line x1="320.60" y1="269.00" x2="323.00" y2="269.00" stroke="#1a1a1a" stroke-width="0.8" />
<text x="320.20" y="271.10" font-size="6.0" font-weight="bold" text-anchor="end" fill="#1a1a1a" font-style="normal" textLength="7.40" lengthAdjust="spacingAndGlyphs" >40</text>
<line x1="320.60" y1="291.12" x2="323.00" y2="291.12" stroke="#1a1a1a" stroke-width="0.8" />
<text x="320.20" y="293.23" font-size="6.0" font-weight="bold" text-anchor="end" fill="#1a1a1a" font-style="normal" textLength="7.40" lengthAdjust="spacingAndGlyphs" >30</text>
<line x1="320.60" y1="313.25" x2="323.00" y2="313.25" stroke="#1a1a1a" stroke-width="0.8" />
<text x="320.20" y="315.35" font-size="6.0" font-weight="bold" text-anchor="end" fill="#1a1a1a" font-style="normal" textLength="7.40" lengthAdjust="spacingAndGlyphs" >20</text>
<line x1="320.60" y1="335.38" x2="323.00" y2="335.38" stroke="#1a1a1a" stroke-width="0.8" />
<text x="320.20" y="337.48" font-size="6.0" font-weight="bold" text-anchor="end" fill="#1a1a1a" font-style="normal" textLength="7.40" lengthAdjust="spacingAndGlyphs" >10</text>
<line x1="320.60" y1="357.50" x2="323.00" y2="357.50" stroke="#1a1a1a" stroke-width="0.8" />
<text x="320.20" y="359.60" font-size="6.0" font-weight="bold" text-anchor="end" fill="#1a1a1a" font-style="normal" textLength="3.60" lengthAdjust="spacingAndGlyphs" >0</text>
<line x1="322.60" y1="357.50" x2="454.80" y2="357.50" stroke="#1a1a1a" stroke-width="1.1" />
<line x1="356.50" y1="357.50" x2="356.50" y2="359.90" stroke="#1a1a1a" stroke-width="1.0" />
<line x1="423.50" y1="357.50" x2="423.50" y2="359.90" stroke="#1a1a1a" stroke-width="1.0" />
<line x1="356.20" y1="281.50" x2="423.80" y2="281.50" stroke="#222" stroke-width="1.0" />
<line x1="356.50" y1="278.60" x2="356.50" y2="285.00" stroke="#222" stroke-width="1.0" />
<line x1="423.50" y1="278.60" x2="423.50" y2="285.00" stroke="#222" stroke-width="1.0" />
<text x="380.90" y="279.70" font-size="6.4" font-weight="normal" text-anchor="start" fill="#2a2a2a" font-style="normal" textLength="16.00" lengthAdjust="spacingAndGlyphs"  stroke="#2a2a2a" stroke-width="0.18">p=ns</text>
<rect x="335.00" y="300.30" width="43.70" height="3.30" fill="#ececec" stroke="none" stroke-width="0" />
<rect x="335.00" y="303.60" width="43.70" height="44.20" fill="url(#gm)" stroke="none" stroke-width="0" />
<rect x="335.00" y="347.80" width="43.70" height="9.70" fill="#fff" stroke="none" stroke-width="0" />
<line x1="335.00" y1="300.30" x2="378.70" y2="300.30" stroke="#111" stroke-width="0.8" />
<line x1="335.00" y1="303.60" x2="378.70" y2="303.60" stroke="#111" stroke-width="0.8" />
<line x1="335.00" y1="347.80" x2="378.70" y2="347.80" stroke="#111" stroke-width="0.8" />
<rect x="335.00" y="300.30" width="43.70" height="57.20" fill="none" stroke="#111" stroke-width="0.8" />
<rect x="400.50" y="295.80" width="44.90" height="8.20" fill="#cdcdcd" stroke="none" stroke-width="0" />
<rect x="400.50" y="304.00" width="44.90" height="42.10" fill="url(#gm)" stroke="none" stroke-width="0" />
<rect x="400.50" y="346.10" width="44.90" height="11.40" fill="#fff" stroke="none" stroke-width="0" />
<line x1="400.50" y1="295.80" x2="445.40" y2="295.80" stroke="#111" stroke-width="0.8" />
<line x1="400.50" y1="304.00" x2="445.40" y2="304.00" stroke="#111" stroke-width="0.8" />
<line x1="400.50" y1="346.10" x2="445.40" y2="346.10" stroke="#111" stroke-width="0.8" />
<rect x="400.50" y="295.80" width="44.90" height="61.70" fill="none" stroke="#111" stroke-width="0.8" />
<text x="339.40" y="367.30" font-size="7.2" font-weight="bold" text-anchor="start" fill="#111" font-style="normal" textLength="35.90" lengthAdjust="spacingAndGlyphs" >WT control</text>
<text x="409.00" y="367.30" font-size="7.2" font-weight="bold" text-anchor="start" fill="#111" font-style="normal" textLength="28.20" lengthAdjust="spacingAndGlyphs" >Apc^min</text>
<text x="292.20" y="313.00" font-size="6.0" font-weight="bold" text-anchor="middle" fill="#111" font-style="normal" textLength="70.60" lengthAdjust="spacingAndGlyphs" transform="rotate(-90 292.20 313.00)" >Colonies/1*10^4 cells</text>
<rect x="464.20" y="301.10" width="10.30" height="5.20" fill="#fff" stroke="#222" stroke-width="0.8" />
<text x="479.70" y="306.00" font-size="7.0" font-weight="normal" text-anchor="start" fill="#1a1a1a" font-style="normal" textLength="21.60" lengthAdjust="spacingAndGlyphs"  stroke="#1a1a1a" stroke-width="0.18">BFU-E</text>
<rect x="464.20" y="311.10" width="10.30" height="5.20" fill="#555" stroke="#222" stroke-width="0.8" />
<rect x="465.10" y="312.90" width="1.40" height="1.60" fill="#ddd" stroke="none" stroke-width="0" />
<rect x="467.50" y="312.90" width="1.40" height="1.60" fill="#ddd" stroke="none" stroke-width="0" />
<rect x="469.90" y="312.90" width="1.40" height="1.60" fill="#ddd" stroke="none" stroke-width="0" />
<rect x="472.30" y="312.90" width="1.40" height="1.60" fill="#ddd" stroke="none" stroke-width="0" />
<text x="479.70" y="316.00" font-size="7.0" font-weight="normal" text-anchor="start" fill="#1a1a1a" font-style="normal" textLength="29.20" lengthAdjust="spacingAndGlyphs"  stroke="#1a1a1a" stroke-width="0.18">CFU-GM</text>
<rect x="464.20" y="321.10" width="10.30" height="5.20" fill="#d4d4d4" stroke="#222" stroke-width="0.8" />
<line x1="464.60" y1="323.70" x2="474.10" y2="323.70" stroke="#fff" stroke-width="0.6" />
<text x="479.70" y="326.00" font-size="7.0" font-weight="normal" text-anchor="start" fill="#1a1a1a" font-style="normal" textLength="41.00" lengthAdjust="spacingAndGlyphs"  stroke="#1a1a1a" stroke-width="0.18">CFU-GEMM</text>
<rect x="464.20" y="331.50" width="10.30" height="5.20" fill="#aaa" stroke="#222" stroke-width="0.8" />
<line x1="465.80" y1="331.90" x2="465.80" y2="336.30" stroke="#eee" stroke-width="0.7" />
<line x1="468.10" y1="331.90" x2="468.10" y2="336.30" stroke="#eee" stroke-width="0.7" />
<line x1="470.40" y1="331.90" x2="470.40" y2="336.30" stroke="#eee" stroke-width="0.7" />
<line x1="472.70" y1="331.90" x2="472.70" y2="336.30" stroke="#eee" stroke-width="0.7" />
<text x="479.70" y="336.40" font-size="7.0" font-weight="normal" text-anchor="start" fill="#1a1a1a" font-style="normal" textLength="31.80" lengthAdjust="spacingAndGlyphs"  stroke="#1a1a1a" stroke-width="0.18">CFU-EMk</text>
<rect x="463.80" y="341.40" width="11.10" height="6.00" fill="#0a0a0a" stroke="none" stroke-width="0" />
<text x="479.70" y="346.70" font-size="7.0" font-weight="normal" text-anchor="start" fill="#1a1a1a" font-style="normal" textLength="26.50" lengthAdjust="spacingAndGlyphs"  stroke="#1a1a1a" stroke-width="0.18">CFU-Mk</text>
</svg>
</body></html>
